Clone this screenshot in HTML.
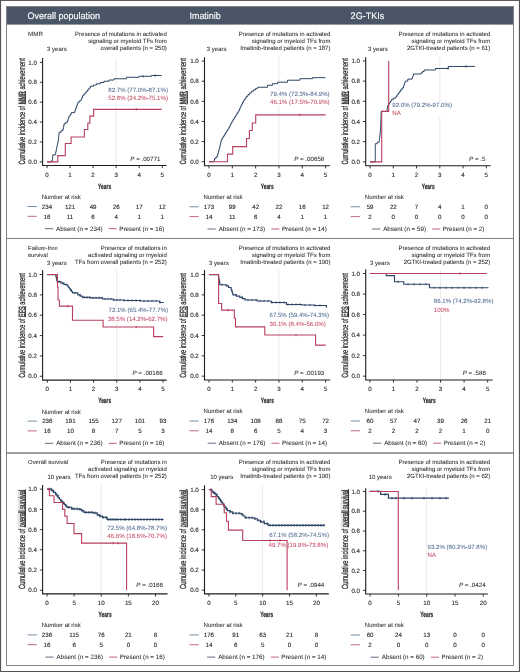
<!DOCTYPE html>
<html><head><meta charset="utf-8"><title>Figure</title>
<style>
html,body{margin:0;padding:0;background:#fff;}
body{width:520px;height:672px;overflow:hidden;font-family:"Liberation Sans", sans-serif;}
svg{display:block;will-change:transform;}
text{font-family:"Liberation Sans", sans-serif;text-rendering:geometricPrecision;}
</style></head><body>
<svg width="520" height="672" viewBox="0 0 520 672" font-family='"Liberation Sans", sans-serif'><rect x="0" y="0" width="520" height="672" fill="#ffffff"/><rect x="0" y="0" width="520" height="1" fill="#5a5a55"/><rect x="0" y="671" width="520" height="1" fill="#555555"/><rect x="0" y="0" width="1.1" height="672" fill="#555555"/><rect x="518.9" y="0" width="1.1" height="672" fill="#555555"/><rect x="6" y="6" width="508" height="18.6" fill="#4a5668"/><text x="27.60" y="18.90" text-anchor="start" fill="#ffffff" font-size="9.5" stroke="#ffffff" stroke-width="0.15" textLength="72.4" lengthAdjust="spacingAndGlyphs">Overall population</text><text x="189.60" y="18.90" text-anchor="start" fill="#ffffff" font-size="9.5" stroke="#ffffff" stroke-width="0.15" textLength="31.0" lengthAdjust="spacingAndGlyphs">Imatinib</text><text x="350.60" y="18.90" text-anchor="start" fill="#ffffff" font-size="9.5" stroke="#ffffff" stroke-width="0.15" textLength="33.8" lengthAdjust="spacingAndGlyphs">2G-TKIs</text><rect x="6.5" y="6.5" width="507" height="659" fill="none" stroke="#848488" stroke-width="1"/><line x1="6" y1="238.5" x2="514" y2="238.5" stroke="#7b8087" stroke-width="1.2"/><line x1="6" y1="452.9" x2="514" y2="452.9" stroke="#7d7f85" stroke-width="1.5"/><line x1="116.15" y1="57.90" x2="116.15" y2="165.50" stroke="#e4e4e8" stroke-width="0.8"/><path d="M42.60,57.90V165.50H166.60" fill="none" stroke="#1e1e1e" stroke-width="1.1"/><line x1="39.80" y1="161.90" x2="42.60" y2="161.90" stroke="#1e1e1e" stroke-width="0.9"/><text x="36.90" y="164.10" text-anchor="end" fill="#2a2a2a" font-size="6.2" stroke="#2a2a2a" stroke-width="0.12" >0.0</text><line x1="39.80" y1="141.99" x2="42.60" y2="141.99" stroke="#1e1e1e" stroke-width="0.9"/><text x="36.90" y="144.19" text-anchor="end" fill="#2a2a2a" font-size="6.2" stroke="#2a2a2a" stroke-width="0.12" >0.2</text><line x1="39.80" y1="122.08" x2="42.60" y2="122.08" stroke="#1e1e1e" stroke-width="0.9"/><text x="36.90" y="124.28" text-anchor="end" fill="#2a2a2a" font-size="6.2" stroke="#2a2a2a" stroke-width="0.12" >0.4</text><line x1="39.80" y1="102.17" x2="42.60" y2="102.17" stroke="#1e1e1e" stroke-width="0.9"/><text x="36.90" y="104.37" text-anchor="end" fill="#2a2a2a" font-size="6.2" stroke="#2a2a2a" stroke-width="0.12" >0.6</text><line x1="39.80" y1="82.26" x2="42.60" y2="82.26" stroke="#1e1e1e" stroke-width="0.9"/><text x="36.90" y="84.46" text-anchor="end" fill="#2a2a2a" font-size="6.2" stroke="#2a2a2a" stroke-width="0.12" >0.8</text><line x1="39.80" y1="62.35" x2="42.60" y2="62.35" stroke="#1e1e1e" stroke-width="0.9"/><text x="36.90" y="64.55" text-anchor="end" fill="#2a2a2a" font-size="6.2" stroke="#2a2a2a" stroke-width="0.12" >1.0</text><line x1="47.00" y1="165.50" x2="47.00" y2="168.10" stroke="#1e1e1e" stroke-width="0.9"/><text x="47.00" y="176.80" text-anchor="middle" fill="#2a2a2a" font-size="6.2" stroke="#2a2a2a" stroke-width="0.12" >0</text><line x1="70.05" y1="165.50" x2="70.05" y2="168.10" stroke="#1e1e1e" stroke-width="0.9"/><text x="70.05" y="176.80" text-anchor="middle" fill="#2a2a2a" font-size="6.2" stroke="#2a2a2a" stroke-width="0.12" >1</text><line x1="93.10" y1="165.50" x2="93.10" y2="168.10" stroke="#1e1e1e" stroke-width="0.9"/><text x="93.10" y="176.80" text-anchor="middle" fill="#2a2a2a" font-size="6.2" stroke="#2a2a2a" stroke-width="0.12" >2</text><line x1="116.15" y1="165.50" x2="116.15" y2="168.10" stroke="#1e1e1e" stroke-width="0.9"/><text x="116.15" y="176.80" text-anchor="middle" fill="#2a2a2a" font-size="6.2" stroke="#2a2a2a" stroke-width="0.12" >3</text><line x1="139.20" y1="165.50" x2="139.20" y2="168.10" stroke="#1e1e1e" stroke-width="0.9"/><text x="139.20" y="176.80" text-anchor="middle" fill="#2a2a2a" font-size="6.2" stroke="#2a2a2a" stroke-width="0.12" >4</text><line x1="162.25" y1="165.50" x2="162.25" y2="168.10" stroke="#1e1e1e" stroke-width="0.9"/><text x="162.25" y="176.80" text-anchor="middle" fill="#2a2a2a" font-size="6.2" stroke="#2a2a2a" stroke-width="0.12" >5</text><text x="0" y="0" transform="translate(104.60,188.80) scale(0.12175,0.19000)" text-anchor="middle" fill="#2a2a2a" font-size="40" font-weight="bold" stroke="#2a2a2a" stroke-width="1.2">Years</text><rect x="17.60" y="90.85" width="7.6" height="13.79" fill="#e3e3e5"/><text x="0" y="0" transform="translate(24.50,164.50) rotate(-90) scale(0.13806,0.22250)" text-anchor="start" fill="#2a2a2a" font-size="40" stroke="#2a2a2a" stroke-width="1.2">Cumulative incidence of <tspan text-decoration="underline">MMR</tspan> achievement</text><line x1="278.96" y1="57.20" x2="278.96" y2="165.80" stroke="#e4e4e8" stroke-width="0.8"/><path d="M204.50,57.20V165.80H329.90" fill="none" stroke="#1e1e1e" stroke-width="1.1"/><line x1="201.70" y1="161.70" x2="204.50" y2="161.70" stroke="#1e1e1e" stroke-width="0.9"/><text x="198.80" y="163.90" text-anchor="end" fill="#2a2a2a" font-size="6.2" stroke="#2a2a2a" stroke-width="0.12" >0.0</text><line x1="201.70" y1="141.58" x2="204.50" y2="141.58" stroke="#1e1e1e" stroke-width="0.9"/><text x="198.80" y="143.78" text-anchor="end" fill="#2a2a2a" font-size="6.2" stroke="#2a2a2a" stroke-width="0.12" >0.2</text><line x1="201.70" y1="121.46" x2="204.50" y2="121.46" stroke="#1e1e1e" stroke-width="0.9"/><text x="198.80" y="123.66" text-anchor="end" fill="#2a2a2a" font-size="6.2" stroke="#2a2a2a" stroke-width="0.12" >0.4</text><line x1="201.70" y1="101.34" x2="204.50" y2="101.34" stroke="#1e1e1e" stroke-width="0.9"/><text x="198.80" y="103.54" text-anchor="end" fill="#2a2a2a" font-size="6.2" stroke="#2a2a2a" stroke-width="0.12" >0.6</text><line x1="201.70" y1="81.22" x2="204.50" y2="81.22" stroke="#1e1e1e" stroke-width="0.9"/><text x="198.80" y="83.42" text-anchor="end" fill="#2a2a2a" font-size="6.2" stroke="#2a2a2a" stroke-width="0.12" >0.8</text><line x1="201.70" y1="61.10" x2="204.50" y2="61.10" stroke="#1e1e1e" stroke-width="0.9"/><text x="198.80" y="63.30" text-anchor="end" fill="#2a2a2a" font-size="6.2" stroke="#2a2a2a" stroke-width="0.12" >1.0</text><line x1="209.00" y1="165.80" x2="209.00" y2="168.40" stroke="#1e1e1e" stroke-width="0.9"/><text x="209.00" y="177.10" text-anchor="middle" fill="#2a2a2a" font-size="6.2" stroke="#2a2a2a" stroke-width="0.12" >0</text><line x1="232.32" y1="165.80" x2="232.32" y2="168.40" stroke="#1e1e1e" stroke-width="0.9"/><text x="232.32" y="177.10" text-anchor="middle" fill="#2a2a2a" font-size="6.2" stroke="#2a2a2a" stroke-width="0.12" >1</text><line x1="255.64" y1="165.80" x2="255.64" y2="168.40" stroke="#1e1e1e" stroke-width="0.9"/><text x="255.64" y="177.10" text-anchor="middle" fill="#2a2a2a" font-size="6.2" stroke="#2a2a2a" stroke-width="0.12" >2</text><line x1="278.96" y1="165.80" x2="278.96" y2="168.40" stroke="#1e1e1e" stroke-width="0.9"/><text x="278.96" y="177.10" text-anchor="middle" fill="#2a2a2a" font-size="6.2" stroke="#2a2a2a" stroke-width="0.12" >3</text><line x1="302.28" y1="165.80" x2="302.28" y2="168.40" stroke="#1e1e1e" stroke-width="0.9"/><text x="302.28" y="177.10" text-anchor="middle" fill="#2a2a2a" font-size="6.2" stroke="#2a2a2a" stroke-width="0.12" >4</text><line x1="325.60" y1="165.80" x2="325.60" y2="168.40" stroke="#1e1e1e" stroke-width="0.9"/><text x="325.60" y="177.10" text-anchor="middle" fill="#2a2a2a" font-size="6.2" stroke="#2a2a2a" stroke-width="0.12" >5</text><text x="0" y="0" transform="translate(267.20,189.10) scale(0.12175,0.19000)" text-anchor="middle" fill="#2a2a2a" font-size="40" font-weight="bold" stroke="#2a2a2a" stroke-width="1.2">Years</text><rect x="179.50" y="90.85" width="7.6" height="13.79" fill="#e3e3e5"/><text x="0" y="0" transform="translate(186.40,164.50) rotate(-90) scale(0.13806,0.22250)" text-anchor="start" fill="#2a2a2a" font-size="40" stroke="#2a2a2a" stroke-width="1.2">Cumulative incidence of <tspan text-decoration="underline">MMR</tspan> achievement</text><line x1="439.82" y1="57.25" x2="439.82" y2="165.80" stroke="#e4e4e8" stroke-width="0.8"/><path d="M365.70,57.25V165.80H490.60" fill="none" stroke="#1e1e1e" stroke-width="1.1"/><line x1="362.90" y1="161.90" x2="365.70" y2="161.90" stroke="#1e1e1e" stroke-width="0.9"/><text x="360.00" y="164.10" text-anchor="end" fill="#2a2a2a" font-size="6.2" stroke="#2a2a2a" stroke-width="0.12" >0.0</text><line x1="362.90" y1="141.70" x2="365.70" y2="141.70" stroke="#1e1e1e" stroke-width="0.9"/><text x="360.00" y="143.90" text-anchor="end" fill="#2a2a2a" font-size="6.2" stroke="#2a2a2a" stroke-width="0.12" >0.2</text><line x1="362.90" y1="121.50" x2="365.70" y2="121.50" stroke="#1e1e1e" stroke-width="0.9"/><text x="360.00" y="123.70" text-anchor="end" fill="#2a2a2a" font-size="6.2" stroke="#2a2a2a" stroke-width="0.12" >0.4</text><line x1="362.90" y1="101.30" x2="365.70" y2="101.30" stroke="#1e1e1e" stroke-width="0.9"/><text x="360.00" y="103.50" text-anchor="end" fill="#2a2a2a" font-size="6.2" stroke="#2a2a2a" stroke-width="0.12" >0.6</text><line x1="362.90" y1="81.10" x2="365.70" y2="81.10" stroke="#1e1e1e" stroke-width="0.9"/><text x="360.00" y="83.30" text-anchor="end" fill="#2a2a2a" font-size="6.2" stroke="#2a2a2a" stroke-width="0.12" >0.8</text><line x1="362.90" y1="60.90" x2="365.70" y2="60.90" stroke="#1e1e1e" stroke-width="0.9"/><text x="360.00" y="63.10" text-anchor="end" fill="#2a2a2a" font-size="6.2" stroke="#2a2a2a" stroke-width="0.12" >1.0</text><line x1="370.10" y1="165.80" x2="370.10" y2="168.40" stroke="#1e1e1e" stroke-width="0.9"/><text x="370.10" y="177.10" text-anchor="middle" fill="#2a2a2a" font-size="6.2" stroke="#2a2a2a" stroke-width="0.12" >0</text><line x1="393.34" y1="165.80" x2="393.34" y2="168.40" stroke="#1e1e1e" stroke-width="0.9"/><text x="393.34" y="177.10" text-anchor="middle" fill="#2a2a2a" font-size="6.2" stroke="#2a2a2a" stroke-width="0.12" >1</text><line x1="416.58" y1="165.80" x2="416.58" y2="168.40" stroke="#1e1e1e" stroke-width="0.9"/><text x="416.58" y="177.10" text-anchor="middle" fill="#2a2a2a" font-size="6.2" stroke="#2a2a2a" stroke-width="0.12" >2</text><line x1="439.82" y1="165.80" x2="439.82" y2="168.40" stroke="#1e1e1e" stroke-width="0.9"/><text x="439.82" y="177.10" text-anchor="middle" fill="#2a2a2a" font-size="6.2" stroke="#2a2a2a" stroke-width="0.12" >3</text><line x1="463.06" y1="165.80" x2="463.06" y2="168.40" stroke="#1e1e1e" stroke-width="0.9"/><text x="463.06" y="177.10" text-anchor="middle" fill="#2a2a2a" font-size="6.2" stroke="#2a2a2a" stroke-width="0.12" >4</text><line x1="486.30" y1="165.80" x2="486.30" y2="168.40" stroke="#1e1e1e" stroke-width="0.9"/><text x="486.30" y="177.10" text-anchor="middle" fill="#2a2a2a" font-size="6.2" stroke="#2a2a2a" stroke-width="0.12" >5</text><text x="0" y="0" transform="translate(428.15,189.10) scale(0.12175,0.19000)" text-anchor="middle" fill="#2a2a2a" font-size="40" font-weight="bold" stroke="#2a2a2a" stroke-width="1.2">Years</text><rect x="340.70" y="90.85" width="7.6" height="13.79" fill="#e3e3e5"/><text x="0" y="0" transform="translate(347.60,164.50) rotate(-90) scale(0.13806,0.22250)" text-anchor="start" fill="#2a2a2a" font-size="40" stroke="#2a2a2a" stroke-width="1.2">Cumulative incidence of <tspan text-decoration="underline">MMR</tspan> achievement</text><line x1="116.72" y1="270.10" x2="116.72" y2="380.10" stroke="#e4e4e8" stroke-width="0.8"/><path d="M42.60,270.10V380.10H166.70" fill="none" stroke="#1e1e1e" stroke-width="1.1"/><line x1="39.80" y1="376.25" x2="42.60" y2="376.25" stroke="#1e1e1e" stroke-width="0.9"/><text x="36.90" y="378.45" text-anchor="end" fill="#2a2a2a" font-size="6.2" stroke="#2a2a2a" stroke-width="0.12" >0.0</text><line x1="39.80" y1="355.91" x2="42.60" y2="355.91" stroke="#1e1e1e" stroke-width="0.9"/><text x="36.90" y="358.11" text-anchor="end" fill="#2a2a2a" font-size="6.2" stroke="#2a2a2a" stroke-width="0.12" >0.2</text><line x1="39.80" y1="335.57" x2="42.60" y2="335.57" stroke="#1e1e1e" stroke-width="0.9"/><text x="36.90" y="337.77" text-anchor="end" fill="#2a2a2a" font-size="6.2" stroke="#2a2a2a" stroke-width="0.12" >0.4</text><line x1="39.80" y1="315.23" x2="42.60" y2="315.23" stroke="#1e1e1e" stroke-width="0.9"/><text x="36.90" y="317.43" text-anchor="end" fill="#2a2a2a" font-size="6.2" stroke="#2a2a2a" stroke-width="0.12" >0.6</text><line x1="39.80" y1="294.89" x2="42.60" y2="294.89" stroke="#1e1e1e" stroke-width="0.9"/><text x="36.90" y="297.09" text-anchor="end" fill="#2a2a2a" font-size="6.2" stroke="#2a2a2a" stroke-width="0.12" >0.8</text><line x1="39.80" y1="274.55" x2="42.60" y2="274.55" stroke="#1e1e1e" stroke-width="0.9"/><text x="36.90" y="276.75" text-anchor="end" fill="#2a2a2a" font-size="6.2" stroke="#2a2a2a" stroke-width="0.12" >1.0</text><line x1="47.30" y1="380.10" x2="47.30" y2="382.70" stroke="#1e1e1e" stroke-width="0.9"/><text x="47.30" y="391.40" text-anchor="middle" fill="#2a2a2a" font-size="6.2" stroke="#2a2a2a" stroke-width="0.12" >0</text><line x1="70.44" y1="380.10" x2="70.44" y2="382.70" stroke="#1e1e1e" stroke-width="0.9"/><text x="70.44" y="391.40" text-anchor="middle" fill="#2a2a2a" font-size="6.2" stroke="#2a2a2a" stroke-width="0.12" >1</text><line x1="93.58" y1="380.10" x2="93.58" y2="382.70" stroke="#1e1e1e" stroke-width="0.9"/><text x="93.58" y="391.40" text-anchor="middle" fill="#2a2a2a" font-size="6.2" stroke="#2a2a2a" stroke-width="0.12" >2</text><line x1="116.72" y1="380.10" x2="116.72" y2="382.70" stroke="#1e1e1e" stroke-width="0.9"/><text x="116.72" y="391.40" text-anchor="middle" fill="#2a2a2a" font-size="6.2" stroke="#2a2a2a" stroke-width="0.12" >3</text><line x1="139.86" y1="380.10" x2="139.86" y2="382.70" stroke="#1e1e1e" stroke-width="0.9"/><text x="139.86" y="391.40" text-anchor="middle" fill="#2a2a2a" font-size="6.2" stroke="#2a2a2a" stroke-width="0.12" >4</text><line x1="163.00" y1="380.10" x2="163.00" y2="382.70" stroke="#1e1e1e" stroke-width="0.9"/><text x="163.00" y="391.40" text-anchor="middle" fill="#2a2a2a" font-size="6.2" stroke="#2a2a2a" stroke-width="0.12" >5</text><text x="0" y="0" transform="translate(104.65,403.40) scale(0.12175,0.19000)" text-anchor="middle" fill="#2a2a2a" font-size="40" font-weight="bold" stroke="#2a2a2a" stroke-width="1.2">Years</text><rect x="17.60" y="305.93" width="7.6" height="11.42" fill="#e3e3e5"/><text x="0" y="0" transform="translate(24.50,377.65) rotate(-90) scale(0.13906,0.22250)" text-anchor="start" fill="#2a2a2a" font-size="40" stroke="#2a2a2a" stroke-width="1.2">Cumulative incidence of <tspan text-decoration="underline">EFS</tspan> achievement</text><line x1="278.96" y1="270.10" x2="278.96" y2="380.00" stroke="#e4e4e8" stroke-width="0.8"/><path d="M204.50,270.10V380.00H330.20" fill="none" stroke="#1e1e1e" stroke-width="1.1"/><line x1="201.70" y1="376.15" x2="204.50" y2="376.15" stroke="#1e1e1e" stroke-width="0.9"/><text x="198.80" y="378.35" text-anchor="end" fill="#2a2a2a" font-size="6.2" stroke="#2a2a2a" stroke-width="0.12" >0.0</text><line x1="201.70" y1="355.83" x2="204.50" y2="355.83" stroke="#1e1e1e" stroke-width="0.9"/><text x="198.80" y="358.03" text-anchor="end" fill="#2a2a2a" font-size="6.2" stroke="#2a2a2a" stroke-width="0.12" >0.2</text><line x1="201.70" y1="335.51" x2="204.50" y2="335.51" stroke="#1e1e1e" stroke-width="0.9"/><text x="198.80" y="337.71" text-anchor="end" fill="#2a2a2a" font-size="6.2" stroke="#2a2a2a" stroke-width="0.12" >0.4</text><line x1="201.70" y1="315.19" x2="204.50" y2="315.19" stroke="#1e1e1e" stroke-width="0.9"/><text x="198.80" y="317.39" text-anchor="end" fill="#2a2a2a" font-size="6.2" stroke="#2a2a2a" stroke-width="0.12" >0.6</text><line x1="201.70" y1="294.87" x2="204.50" y2="294.87" stroke="#1e1e1e" stroke-width="0.9"/><text x="198.80" y="297.07" text-anchor="end" fill="#2a2a2a" font-size="6.2" stroke="#2a2a2a" stroke-width="0.12" >0.8</text><line x1="201.70" y1="274.55" x2="204.50" y2="274.55" stroke="#1e1e1e" stroke-width="0.9"/><text x="198.80" y="276.75" text-anchor="end" fill="#2a2a2a" font-size="6.2" stroke="#2a2a2a" stroke-width="0.12" >1.0</text><line x1="209.00" y1="380.00" x2="209.00" y2="382.60" stroke="#1e1e1e" stroke-width="0.9"/><text x="209.00" y="391.30" text-anchor="middle" fill="#2a2a2a" font-size="6.2" stroke="#2a2a2a" stroke-width="0.12" >0</text><line x1="232.32" y1="380.00" x2="232.32" y2="382.60" stroke="#1e1e1e" stroke-width="0.9"/><text x="232.32" y="391.30" text-anchor="middle" fill="#2a2a2a" font-size="6.2" stroke="#2a2a2a" stroke-width="0.12" >1</text><line x1="255.64" y1="380.00" x2="255.64" y2="382.60" stroke="#1e1e1e" stroke-width="0.9"/><text x="255.64" y="391.30" text-anchor="middle" fill="#2a2a2a" font-size="6.2" stroke="#2a2a2a" stroke-width="0.12" >2</text><line x1="278.96" y1="380.00" x2="278.96" y2="382.60" stroke="#1e1e1e" stroke-width="0.9"/><text x="278.96" y="391.30" text-anchor="middle" fill="#2a2a2a" font-size="6.2" stroke="#2a2a2a" stroke-width="0.12" >3</text><line x1="302.28" y1="380.00" x2="302.28" y2="382.60" stroke="#1e1e1e" stroke-width="0.9"/><text x="302.28" y="391.30" text-anchor="middle" fill="#2a2a2a" font-size="6.2" stroke="#2a2a2a" stroke-width="0.12" >4</text><line x1="325.60" y1="380.00" x2="325.60" y2="382.60" stroke="#1e1e1e" stroke-width="0.9"/><text x="325.60" y="391.30" text-anchor="middle" fill="#2a2a2a" font-size="6.2" stroke="#2a2a2a" stroke-width="0.12" >5</text><text x="0" y="0" transform="translate(267.35,403.30) scale(0.12175,0.19000)" text-anchor="middle" fill="#2a2a2a" font-size="40" font-weight="bold" stroke="#2a2a2a" stroke-width="1.2">Years</text><rect x="179.50" y="305.93" width="7.6" height="11.42" fill="#e3e3e5"/><text x="0" y="0" transform="translate(186.40,377.65) rotate(-90) scale(0.13906,0.22250)" text-anchor="start" fill="#2a2a2a" font-size="40" stroke="#2a2a2a" stroke-width="1.2">Cumulative incidence of <tspan text-decoration="underline">EFS</tspan> achievement</text><line x1="440.55" y1="269.35" x2="440.55" y2="380.00" stroke="#e4e4e8" stroke-width="0.8"/><path d="M365.70,269.35V380.00H492.60" fill="none" stroke="#1e1e1e" stroke-width="1.1"/><line x1="362.90" y1="376.15" x2="365.70" y2="376.15" stroke="#1e1e1e" stroke-width="0.9"/><text x="360.00" y="378.35" text-anchor="end" fill="#2a2a2a" font-size="6.2" stroke="#2a2a2a" stroke-width="0.12" >0.0</text><line x1="362.90" y1="355.63" x2="365.70" y2="355.63" stroke="#1e1e1e" stroke-width="0.9"/><text x="360.00" y="357.83" text-anchor="end" fill="#2a2a2a" font-size="6.2" stroke="#2a2a2a" stroke-width="0.12" >0.2</text><line x1="362.90" y1="335.11" x2="365.70" y2="335.11" stroke="#1e1e1e" stroke-width="0.9"/><text x="360.00" y="337.31" text-anchor="end" fill="#2a2a2a" font-size="6.2" stroke="#2a2a2a" stroke-width="0.12" >0.4</text><line x1="362.90" y1="314.59" x2="365.70" y2="314.59" stroke="#1e1e1e" stroke-width="0.9"/><text x="360.00" y="316.79" text-anchor="end" fill="#2a2a2a" font-size="6.2" stroke="#2a2a2a" stroke-width="0.12" >0.6</text><line x1="362.90" y1="294.07" x2="365.70" y2="294.07" stroke="#1e1e1e" stroke-width="0.9"/><text x="360.00" y="296.27" text-anchor="end" fill="#2a2a2a" font-size="6.2" stroke="#2a2a2a" stroke-width="0.12" >0.8</text><line x1="362.90" y1="273.55" x2="365.70" y2="273.55" stroke="#1e1e1e" stroke-width="0.9"/><text x="360.00" y="275.75" text-anchor="end" fill="#2a2a2a" font-size="6.2" stroke="#2a2a2a" stroke-width="0.12" >1.0</text><line x1="369.90" y1="380.00" x2="369.90" y2="382.60" stroke="#1e1e1e" stroke-width="0.9"/><text x="369.90" y="391.30" text-anchor="middle" fill="#2a2a2a" font-size="6.2" stroke="#2a2a2a" stroke-width="0.12" >0</text><line x1="393.45" y1="380.00" x2="393.45" y2="382.60" stroke="#1e1e1e" stroke-width="0.9"/><text x="393.45" y="391.30" text-anchor="middle" fill="#2a2a2a" font-size="6.2" stroke="#2a2a2a" stroke-width="0.12" >1</text><line x1="417.00" y1="380.00" x2="417.00" y2="382.60" stroke="#1e1e1e" stroke-width="0.9"/><text x="417.00" y="391.30" text-anchor="middle" fill="#2a2a2a" font-size="6.2" stroke="#2a2a2a" stroke-width="0.12" >2</text><line x1="440.55" y1="380.00" x2="440.55" y2="382.60" stroke="#1e1e1e" stroke-width="0.9"/><text x="440.55" y="391.30" text-anchor="middle" fill="#2a2a2a" font-size="6.2" stroke="#2a2a2a" stroke-width="0.12" >3</text><line x1="464.10" y1="380.00" x2="464.10" y2="382.60" stroke="#1e1e1e" stroke-width="0.9"/><text x="464.10" y="391.30" text-anchor="middle" fill="#2a2a2a" font-size="6.2" stroke="#2a2a2a" stroke-width="0.12" >4</text><line x1="487.65" y1="380.00" x2="487.65" y2="382.60" stroke="#1e1e1e" stroke-width="0.9"/><text x="487.65" y="391.30" text-anchor="middle" fill="#2a2a2a" font-size="6.2" stroke="#2a2a2a" stroke-width="0.12" >5</text><text x="0" y="0" transform="translate(429.15,403.30) scale(0.12175,0.19000)" text-anchor="middle" fill="#2a2a2a" font-size="40" font-weight="bold" stroke="#2a2a2a" stroke-width="1.2">Years</text><rect x="340.70" y="305.93" width="7.6" height="11.42" fill="#e3e3e5"/><text x="0" y="0" transform="translate(347.60,377.65) rotate(-90) scale(0.13906,0.22250)" text-anchor="start" fill="#2a2a2a" font-size="40" stroke="#2a2a2a" stroke-width="1.2">Cumulative incidence of <tspan text-decoration="underline">EFS</tspan> achievement</text><line x1="101.25" y1="484.90" x2="101.25" y2="593.90" stroke="#e4e4e8" stroke-width="0.8"/><path d="M42.60,484.90V593.90H167.60" fill="none" stroke="#1e1e1e" stroke-width="1.1"/><line x1="39.80" y1="590.25" x2="42.60" y2="590.25" stroke="#1e1e1e" stroke-width="0.9"/><text x="36.90" y="592.45" text-anchor="end" fill="#2a2a2a" font-size="6.2" stroke="#2a2a2a" stroke-width="0.12" >0.0</text><line x1="39.80" y1="570.03" x2="42.60" y2="570.03" stroke="#1e1e1e" stroke-width="0.9"/><text x="36.90" y="572.23" text-anchor="end" fill="#2a2a2a" font-size="6.2" stroke="#2a2a2a" stroke-width="0.12" >0.2</text><line x1="39.80" y1="549.81" x2="42.60" y2="549.81" stroke="#1e1e1e" stroke-width="0.9"/><text x="36.90" y="552.01" text-anchor="end" fill="#2a2a2a" font-size="6.2" stroke="#2a2a2a" stroke-width="0.12" >0.4</text><line x1="39.80" y1="529.59" x2="42.60" y2="529.59" stroke="#1e1e1e" stroke-width="0.9"/><text x="36.90" y="531.79" text-anchor="end" fill="#2a2a2a" font-size="6.2" stroke="#2a2a2a" stroke-width="0.12" >0.6</text><line x1="39.80" y1="509.37" x2="42.60" y2="509.37" stroke="#1e1e1e" stroke-width="0.9"/><text x="36.90" y="511.57" text-anchor="end" fill="#2a2a2a" font-size="6.2" stroke="#2a2a2a" stroke-width="0.12" >0.8</text><line x1="39.80" y1="489.15" x2="42.60" y2="489.15" stroke="#1e1e1e" stroke-width="0.9"/><text x="36.90" y="491.35" text-anchor="end" fill="#2a2a2a" font-size="6.2" stroke="#2a2a2a" stroke-width="0.12" >1.0</text><line x1="47.00" y1="593.90" x2="47.00" y2="596.50" stroke="#1e1e1e" stroke-width="0.9"/><text x="47.00" y="605.20" text-anchor="middle" fill="#2a2a2a" font-size="6.2" stroke="#2a2a2a" stroke-width="0.12" >0</text><line x1="74.12" y1="593.90" x2="74.12" y2="596.50" stroke="#1e1e1e" stroke-width="0.9"/><text x="74.12" y="605.20" text-anchor="middle" fill="#2a2a2a" font-size="6.2" stroke="#2a2a2a" stroke-width="0.12" >5</text><line x1="101.25" y1="593.90" x2="101.25" y2="596.50" stroke="#1e1e1e" stroke-width="0.9"/><text x="101.25" y="605.20" text-anchor="middle" fill="#2a2a2a" font-size="6.2" stroke="#2a2a2a" stroke-width="0.12" >10</text><line x1="128.38" y1="593.90" x2="128.38" y2="596.50" stroke="#1e1e1e" stroke-width="0.9"/><text x="128.38" y="605.20" text-anchor="middle" fill="#2a2a2a" font-size="6.2" stroke="#2a2a2a" stroke-width="0.12" >15</text><line x1="155.50" y1="593.90" x2="155.50" y2="596.50" stroke="#1e1e1e" stroke-width="0.9"/><text x="155.50" y="605.20" text-anchor="middle" fill="#2a2a2a" font-size="6.2" stroke="#2a2a2a" stroke-width="0.12" >20</text><text x="0" y="0" transform="translate(105.10,617.20) scale(0.12175,0.19000)" text-anchor="middle" fill="#2a2a2a" font-size="40" font-weight="bold" stroke="#2a2a2a" stroke-width="1.2">Years</text><rect x="17.60" y="489.50" width="7.6" height="38.03" fill="#e3e3e5"/><text x="0" y="0" transform="translate(24.50,588.90) rotate(-90) scale(0.14151,0.22250)" text-anchor="start" fill="#2a2a2a" font-size="40" stroke="#2a2a2a" stroke-width="1.2">Cumulative incidence of <tspan text-decoration="underline">overall survival</tspan></text><line x1="262.65" y1="485.30" x2="262.65" y2="593.90" stroke="#e4e4e8" stroke-width="0.8"/><path d="M204.50,485.30V593.90H328.80" fill="none" stroke="#1e1e1e" stroke-width="1.1"/><line x1="201.70" y1="590.15" x2="204.50" y2="590.15" stroke="#1e1e1e" stroke-width="0.9"/><text x="198.80" y="592.35" text-anchor="end" fill="#2a2a2a" font-size="6.2" stroke="#2a2a2a" stroke-width="0.12" >0.0</text><line x1="201.70" y1="570.04" x2="204.50" y2="570.04" stroke="#1e1e1e" stroke-width="0.9"/><text x="198.80" y="572.24" text-anchor="end" fill="#2a2a2a" font-size="6.2" stroke="#2a2a2a" stroke-width="0.12" >0.2</text><line x1="201.70" y1="549.93" x2="204.50" y2="549.93" stroke="#1e1e1e" stroke-width="0.9"/><text x="198.80" y="552.13" text-anchor="end" fill="#2a2a2a" font-size="6.2" stroke="#2a2a2a" stroke-width="0.12" >0.4</text><line x1="201.70" y1="529.82" x2="204.50" y2="529.82" stroke="#1e1e1e" stroke-width="0.9"/><text x="198.80" y="532.02" text-anchor="end" fill="#2a2a2a" font-size="6.2" stroke="#2a2a2a" stroke-width="0.12" >0.6</text><line x1="201.70" y1="509.71" x2="204.50" y2="509.71" stroke="#1e1e1e" stroke-width="0.9"/><text x="198.80" y="511.91" text-anchor="end" fill="#2a2a2a" font-size="6.2" stroke="#2a2a2a" stroke-width="0.12" >0.8</text><line x1="201.70" y1="489.60" x2="204.50" y2="489.60" stroke="#1e1e1e" stroke-width="0.9"/><text x="198.80" y="491.80" text-anchor="end" fill="#2a2a2a" font-size="6.2" stroke="#2a2a2a" stroke-width="0.12" >1.0</text><line x1="208.90" y1="593.90" x2="208.90" y2="596.50" stroke="#1e1e1e" stroke-width="0.9"/><text x="208.90" y="605.20" text-anchor="middle" fill="#2a2a2a" font-size="6.2" stroke="#2a2a2a" stroke-width="0.12" >0</text><line x1="235.78" y1="593.90" x2="235.78" y2="596.50" stroke="#1e1e1e" stroke-width="0.9"/><text x="235.78" y="605.20" text-anchor="middle" fill="#2a2a2a" font-size="6.2" stroke="#2a2a2a" stroke-width="0.12" >5</text><line x1="262.65" y1="593.90" x2="262.65" y2="596.50" stroke="#1e1e1e" stroke-width="0.9"/><text x="262.65" y="605.20" text-anchor="middle" fill="#2a2a2a" font-size="6.2" stroke="#2a2a2a" stroke-width="0.12" >10</text><line x1="289.52" y1="593.90" x2="289.52" y2="596.50" stroke="#1e1e1e" stroke-width="0.9"/><text x="289.52" y="605.20" text-anchor="middle" fill="#2a2a2a" font-size="6.2" stroke="#2a2a2a" stroke-width="0.12" >15</text><line x1="316.40" y1="593.90" x2="316.40" y2="596.50" stroke="#1e1e1e" stroke-width="0.9"/><text x="316.40" y="605.20" text-anchor="middle" fill="#2a2a2a" font-size="6.2" stroke="#2a2a2a" stroke-width="0.12" >20</text><text x="0" y="0" transform="translate(266.65,617.20) scale(0.12175,0.19000)" text-anchor="middle" fill="#2a2a2a" font-size="40" font-weight="bold" stroke="#2a2a2a" stroke-width="1.2">Years</text><rect x="179.50" y="489.50" width="7.6" height="38.03" fill="#e3e3e5"/><text x="0" y="0" transform="translate(186.40,588.90) rotate(-90) scale(0.14151,0.22250)" text-anchor="start" fill="#2a2a2a" font-size="40" stroke="#2a2a2a" stroke-width="1.2">Cumulative incidence of <tspan text-decoration="underline">overall survival</tspan></text><line x1="426.70" y1="488.20" x2="426.70" y2="594.00" stroke="#e4e4e8" stroke-width="0.8"/><path d="M365.70,488.20V594.00H487.90" fill="none" stroke="#1e1e1e" stroke-width="1.1"/><line x1="362.90" y1="590.35" x2="365.70" y2="590.35" stroke="#1e1e1e" stroke-width="0.9"/><text x="360.00" y="592.55" text-anchor="end" fill="#2a2a2a" font-size="6.2" stroke="#2a2a2a" stroke-width="0.12" >0.0</text><line x1="362.90" y1="570.57" x2="365.70" y2="570.57" stroke="#1e1e1e" stroke-width="0.9"/><text x="360.00" y="572.77" text-anchor="end" fill="#2a2a2a" font-size="6.2" stroke="#2a2a2a" stroke-width="0.12" >0.2</text><line x1="362.90" y1="550.79" x2="365.70" y2="550.79" stroke="#1e1e1e" stroke-width="0.9"/><text x="360.00" y="552.99" text-anchor="end" fill="#2a2a2a" font-size="6.2" stroke="#2a2a2a" stroke-width="0.12" >0.4</text><line x1="362.90" y1="531.01" x2="365.70" y2="531.01" stroke="#1e1e1e" stroke-width="0.9"/><text x="360.00" y="533.21" text-anchor="end" fill="#2a2a2a" font-size="6.2" stroke="#2a2a2a" stroke-width="0.12" >0.6</text><line x1="362.90" y1="511.23" x2="365.70" y2="511.23" stroke="#1e1e1e" stroke-width="0.9"/><text x="360.00" y="513.43" text-anchor="end" fill="#2a2a2a" font-size="6.2" stroke="#2a2a2a" stroke-width="0.12" >0.8</text><line x1="362.90" y1="491.45" x2="365.70" y2="491.45" stroke="#1e1e1e" stroke-width="0.9"/><text x="360.00" y="493.65" text-anchor="end" fill="#2a2a2a" font-size="6.2" stroke="#2a2a2a" stroke-width="0.12" >1.0</text><line x1="370.10" y1="594.00" x2="370.10" y2="596.60" stroke="#1e1e1e" stroke-width="0.9"/><text x="370.10" y="605.30" text-anchor="middle" fill="#2a2a2a" font-size="6.2" stroke="#2a2a2a" stroke-width="0.12" >0</text><line x1="398.40" y1="594.00" x2="398.40" y2="596.60" stroke="#1e1e1e" stroke-width="0.9"/><text x="398.40" y="605.30" text-anchor="middle" fill="#2a2a2a" font-size="6.2" stroke="#2a2a2a" stroke-width="0.12" >5</text><line x1="426.70" y1="594.00" x2="426.70" y2="596.60" stroke="#1e1e1e" stroke-width="0.9"/><text x="426.70" y="605.30" text-anchor="middle" fill="#2a2a2a" font-size="6.2" stroke="#2a2a2a" stroke-width="0.12" >10</text><line x1="455.00" y1="594.00" x2="455.00" y2="596.60" stroke="#1e1e1e" stroke-width="0.9"/><text x="455.00" y="605.30" text-anchor="middle" fill="#2a2a2a" font-size="6.2" stroke="#2a2a2a" stroke-width="0.12" >15</text><line x1="483.30" y1="594.00" x2="483.30" y2="596.60" stroke="#1e1e1e" stroke-width="0.9"/><text x="483.30" y="605.30" text-anchor="middle" fill="#2a2a2a" font-size="6.2" stroke="#2a2a2a" stroke-width="0.12" >20</text><text x="0" y="0" transform="translate(426.80,617.30) scale(0.12175,0.19000)" text-anchor="middle" fill="#2a2a2a" font-size="40" font-weight="bold" stroke="#2a2a2a" stroke-width="1.2">Years</text><rect x="340.70" y="489.50" width="7.6" height="38.03" fill="#e3e3e5"/><text x="0" y="0" transform="translate(347.60,588.90) rotate(-90) scale(0.14151,0.22250)" text-anchor="start" fill="#2a2a2a" font-size="40" stroke="#2a2a2a" stroke-width="1.2">Cumulative incidence of <tspan text-decoration="underline">overall survival</tspan></text><text x="28.10" y="35.90" text-anchor="start" fill="#2a2a2a" font-size="6.3" stroke="#2a2a2a" stroke-width="0.05" >MMR</text><text x="47.10" y="50.50" text-anchor="start" fill="#2a2a2a" font-size="6.0" stroke="#2a2a2a" stroke-width="0.05" >3 years</text><text x="166.80" y="36.00" text-anchor="end" fill="#2a2a2a" font-size="6.0" stroke="#2a2a2a" stroke-width="0.05" >Presence of mutations in activated</text><text x="166.80" y="43.00" text-anchor="end" fill="#2a2a2a" font-size="6.0" stroke="#2a2a2a" stroke-width="0.05" >signaling or myeloid TFs from</text><text x="166.80" y="50.00" text-anchor="end" fill="#2a2a2a" font-size="6.0" stroke="#2a2a2a" stroke-width="0.05" >overall patients (n = 250)</text><path d="M47.00,161.90H51.50H51.50V160.71H52.50H52.55V159.26H52.60V157.82H52.65V156.37H52.70V154.93H55.30V153.94H55.64V152.30H55.99V150.67H56.33V149.03H56.67V147.39H57.01V145.76H57.36V144.12H57.70V142.49H58.00V141.24H58.30V140.00H58.46V138.47H58.62V136.93H58.78V135.40H58.94V133.87H59.10V132.33H61.00V130.69H62.90V129.05H63.30V127.26H63.70V125.46H64.10V123.67H65.80V122.18H67.50V120.69H68.10V118.75H68.70V116.80H69.60V115.41H70.50V114.02H71.40V112.62H74.80V110.73H75.47V108.91H76.13V107.08H76.80V105.26H77.35V103.71H77.90V102.17H79.45V100.83H81.00V99.48H81.75V97.59H82.50V95.70H83.75V94.26H85.00V92.81H86.25V91.37H87.50V89.93H88.90V88.08H90.30V86.24H93.40V85.00H96.50V83.75H100.25V82.51H104.00V81.26H109.00V80.02H114.00V78.78H126.50V77.28H139.00V76.29H151.50V75.49H161.50" fill="none" stroke="#2c4566" stroke-width="1.0" stroke-linejoin="miter" stroke-linecap="butt"/><path d="M47.00,161.90H57.80V155.63H65.30V143.48H71.10V137.01H84.40V129.55H87.80V123.08H89.90V116.11H93.60V109.34H161.60" fill="none" stroke="#b8405e" stroke-width="1.1" stroke-linejoin="miter" stroke-linecap="butt"/><line x1="136.30" y1="108.14" x2="136.30" y2="110.54" stroke="#b8405e" stroke-width="0.9"/><line x1="143.00" y1="75.09" x2="143.00" y2="77.49" stroke="#2c4566" stroke-width="0.9"/><line x1="155.00" y1="74.29" x2="155.00" y2="76.69" stroke="#2c4566" stroke-width="0.9"/><rect x="107.70" y="86.80" width="61.47" height="14.40" fill="#ffffff"/><text x="108.30" y="91.80" text-anchor="start" fill="#4f6b90" font-size="6.1" stroke="#4f6b90" stroke-width="0.05" >82.7% (77.0%-87.1%)</text><text x="108.30" y="99.60" text-anchor="start" fill="#c64a66" font-size="6.1" stroke="#c64a66" stroke-width="0.05" >52.8% (24.2%-75.1%)</text><text x="160.40" y="160.60" text-anchor="end" fill="#2a2a2a" font-size="6.2" stroke="#2a2a2a" stroke-width="0.05" ><tspan font-style="italic">P</tspan> = .00771</text><text x="41.70" y="198.90" text-anchor="start" fill="#2a2a2a" font-size="6.0" stroke="#2a2a2a" stroke-width="0.05" >Number at risk</text><line x1="27.60" y1="206.50" x2="36.80" y2="206.50" stroke="#7590a6" stroke-width="1.0"/><line x1="27.60" y1="216.30" x2="36.80" y2="216.30" stroke="#c06a82" stroke-width="1.0"/><text x="47.00" y="208.70" text-anchor="middle" fill="#2a2a2a" font-size="6.2" stroke="#2a2a2a" stroke-width="0.12" >234</text><text x="47.00" y="218.50" text-anchor="middle" fill="#2a2a2a" font-size="6.2" stroke="#2a2a2a" stroke-width="0.12" >16</text><text x="70.05" y="208.70" text-anchor="middle" fill="#2a2a2a" font-size="6.2" stroke="#2a2a2a" stroke-width="0.12" >121</text><text x="70.05" y="218.50" text-anchor="middle" fill="#2a2a2a" font-size="6.2" stroke="#2a2a2a" stroke-width="0.12" >11</text><text x="93.10" y="208.70" text-anchor="middle" fill="#2a2a2a" font-size="6.2" stroke="#2a2a2a" stroke-width="0.12" >49</text><text x="93.10" y="218.50" text-anchor="middle" fill="#2a2a2a" font-size="6.2" stroke="#2a2a2a" stroke-width="0.12" >6</text><text x="116.15" y="208.70" text-anchor="middle" fill="#2a2a2a" font-size="6.2" stroke="#2a2a2a" stroke-width="0.12" >26</text><text x="116.15" y="218.50" text-anchor="middle" fill="#2a2a2a" font-size="6.2" stroke="#2a2a2a" stroke-width="0.12" >4</text><text x="139.20" y="208.70" text-anchor="middle" fill="#2a2a2a" font-size="6.2" stroke="#2a2a2a" stroke-width="0.12" >17</text><text x="139.20" y="218.50" text-anchor="middle" fill="#2a2a2a" font-size="6.2" stroke="#2a2a2a" stroke-width="0.12" >1</text><text x="162.25" y="208.70" text-anchor="middle" fill="#2a2a2a" font-size="6.2" stroke="#2a2a2a" stroke-width="0.12" >12</text><text x="162.25" y="218.50" text-anchor="middle" fill="#2a2a2a" font-size="6.2" stroke="#2a2a2a" stroke-width="0.12" >1</text><line x1="44.91" y1="228.70" x2="53.11" y2="228.70" stroke="#46526a" stroke-width="0.85"/><text x="56.11" y="230.80" text-anchor="start" fill="#2a2a2a" font-size="6.25" stroke="#2a2a2a" stroke-width="0.05" >Absent (n = 234)</text><line x1="108.70" y1="228.70" x2="116.70" y2="228.70" stroke="#b8405e" stroke-width="0.85"/><text x="119.30" y="230.80" text-anchor="start" fill="#2a2a2a" font-size="6.25" stroke="#2a2a2a" stroke-width="0.05" >Present (n = 16)</text><text x="206.80" y="50.50" text-anchor="start" fill="#2a2a2a" font-size="6.0" stroke="#2a2a2a" stroke-width="0.05" >3 years</text><text x="330.40" y="36.00" text-anchor="end" fill="#2a2a2a" font-size="6.0" stroke="#2a2a2a" stroke-width="0.05" >Presence of mutations in activated</text><text x="330.40" y="43.00" text-anchor="end" fill="#2a2a2a" font-size="6.0" stroke="#2a2a2a" stroke-width="0.05" >signaling or myeloid TFs from</text><text x="330.40" y="50.00" text-anchor="end" fill="#2a2a2a" font-size="6.0" stroke="#2a2a2a" stroke-width="0.05" >Imatinib-treated patients (n = 187)</text><path d="M209.00,161.70H213.70H214.10V160.19H214.50V158.68H216.00V156.82H217.50V154.96H217.90V153.49H218.30V152.02H218.70V150.55H219.10V149.08H219.50V147.62H219.86V146.01H220.22V144.40H220.58V142.79H220.94V141.18H221.30V139.57H222.23V138.06H223.15V136.55H224.07V135.04H225.00V133.53H225.95V132.02H226.90V130.51H227.85V129.00H228.80V127.50H229.63V125.82H230.47V124.14H231.30V122.47H232.23V120.96H233.15V119.45H234.07V117.94H235.00V116.43H235.95V114.92H236.90V113.41H237.85V111.90H238.80V110.39H239.54V108.78H240.28V107.17H241.02V105.57H241.76V103.96H242.50V102.35H243.45V100.84H244.40V99.33H245.35V97.82H246.30V96.31H247.97V94.63H249.63V92.96H251.30V91.28H253.37V89.94H255.43V88.60H257.50V87.26H267.50V85.24H272.50V83.73H277.50V82.23H287.50V80.21H300.00V78.70H312.50V77.70H325.20V77.20" fill="none" stroke="#2c4566" stroke-width="1.0" stroke-linejoin="miter" stroke-linecap="butt"/><path d="M209.00,161.70H227.50V154.16H232.70V146.61H246.50V138.56H249.40V130.51H252.30V122.97H255.70V114.92H325.60" fill="none" stroke="#b8405e" stroke-width="1.1" stroke-linejoin="miter" stroke-linecap="butt"/><line x1="299.70" y1="113.72" x2="299.70" y2="116.12" stroke="#b8405e" stroke-width="0.9"/><rect x="269.40" y="90.60" width="61.47" height="15.10" fill="#ffffff"/><text x="270.00" y="95.60" text-anchor="start" fill="#4f6b90" font-size="6.1" stroke="#4f6b90" stroke-width="0.05" >79.4% (72.3%-84.9%)</text><text x="270.00" y="104.10" text-anchor="start" fill="#c64a66" font-size="6.1" stroke="#c64a66" stroke-width="0.05" >46.1% (17.5%-70.9%)</text><text x="324.30" y="160.60" text-anchor="end" fill="#2a2a2a" font-size="6.2" stroke="#2a2a2a" stroke-width="0.05" ><tspan font-style="italic">P</tspan> = .00658</text><text x="203.60" y="199.20" text-anchor="start" fill="#2a2a2a" font-size="6.0" stroke="#2a2a2a" stroke-width="0.05" >Number at risk</text><line x1="189.50" y1="206.80" x2="198.70" y2="206.80" stroke="#7590a6" stroke-width="1.0"/><line x1="189.50" y1="216.60" x2="198.70" y2="216.60" stroke="#c06a82" stroke-width="1.0"/><text x="209.00" y="209.00" text-anchor="middle" fill="#2a2a2a" font-size="6.2" stroke="#2a2a2a" stroke-width="0.12" >173</text><text x="209.00" y="218.80" text-anchor="middle" fill="#2a2a2a" font-size="6.2" stroke="#2a2a2a" stroke-width="0.12" >14</text><text x="232.32" y="209.00" text-anchor="middle" fill="#2a2a2a" font-size="6.2" stroke="#2a2a2a" stroke-width="0.12" >99</text><text x="232.32" y="218.80" text-anchor="middle" fill="#2a2a2a" font-size="6.2" stroke="#2a2a2a" stroke-width="0.12" >11</text><text x="255.64" y="209.00" text-anchor="middle" fill="#2a2a2a" font-size="6.2" stroke="#2a2a2a" stroke-width="0.12" >42</text><text x="255.64" y="218.80" text-anchor="middle" fill="#2a2a2a" font-size="6.2" stroke="#2a2a2a" stroke-width="0.12" >6</text><text x="278.96" y="209.00" text-anchor="middle" fill="#2a2a2a" font-size="6.2" stroke="#2a2a2a" stroke-width="0.12" >22</text><text x="278.96" y="218.80" text-anchor="middle" fill="#2a2a2a" font-size="6.2" stroke="#2a2a2a" stroke-width="0.12" >4</text><text x="302.28" y="209.00" text-anchor="middle" fill="#2a2a2a" font-size="6.2" stroke="#2a2a2a" stroke-width="0.12" >16</text><text x="302.28" y="218.80" text-anchor="middle" fill="#2a2a2a" font-size="6.2" stroke="#2a2a2a" stroke-width="0.12" >1</text><text x="325.60" y="209.00" text-anchor="middle" fill="#2a2a2a" font-size="6.2" stroke="#2a2a2a" stroke-width="0.12" >12</text><text x="325.60" y="218.80" text-anchor="middle" fill="#2a2a2a" font-size="6.2" stroke="#2a2a2a" stroke-width="0.12" >1</text><line x1="207.51" y1="229.00" x2="215.71" y2="229.00" stroke="#46526a" stroke-width="0.85"/><text x="218.71" y="231.10" text-anchor="start" fill="#2a2a2a" font-size="6.25" stroke="#2a2a2a" stroke-width="0.05" >Absent (n = 173)</text><line x1="271.30" y1="229.00" x2="279.30" y2="229.00" stroke="#b8405e" stroke-width="0.85"/><text x="281.90" y="231.10" text-anchor="start" fill="#2a2a2a" font-size="6.25" stroke="#2a2a2a" stroke-width="0.05" >Present (n = 14)</text><text x="368.10" y="50.50" text-anchor="start" fill="#2a2a2a" font-size="6.0" stroke="#2a2a2a" stroke-width="0.05" >3 years</text><text x="490.20" y="36.00" text-anchor="end" fill="#2a2a2a" font-size="6.0" stroke="#2a2a2a" stroke-width="0.05" >Presence of mutations in activated</text><text x="490.20" y="43.00" text-anchor="end" fill="#2a2a2a" font-size="6.0" stroke="#2a2a2a" stroke-width="0.05" >signaling or myeloid TFs from</text><text x="490.20" y="50.00" text-anchor="end" fill="#2a2a2a" font-size="6.0" stroke="#2a2a2a" stroke-width="0.05" >2GTKI-treated patients (n = 61)</text><path d="M370.10,161.90H375.30H375.30V160.25H375.30V158.59H375.30V156.94H375.30V155.29H375.30V153.64H375.30V151.98H375.30V150.33H375.30V148.68H375.30V147.03H375.30V145.37H375.30V143.72H377.25V142.21H379.20V140.69H379.39V139.10H379.57V137.52H379.76V135.93H379.94V134.34H380.13V132.75H380.31V131.17H380.50V129.58H380.56V127.93H380.63V126.27H380.69V124.62H380.75V122.97H380.82V121.32H380.88V119.66H380.95V118.01H381.01V116.36H381.07V114.71H381.14V113.05H381.20V111.40H386.70H386.97V109.55H387.23V107.70H387.50V105.84H388.55V104.20H389.60V102.56H390.65V100.92H391.70V99.28H393.75V98.02H395.80V96.76H396.93V95.07H398.07V93.39H399.20V91.71H400.63V89.85H402.07V88.00H403.50V86.15H404.07V84.47H404.63V82.78H405.20V81.10H407.80V79.08H412.10V78.07H412.57V76.72H413.03V75.38H413.50V74.03H420.80V73.02H422.50V71.51H424.20V69.99H435.50V68.47H448.40V66.46H474.70V65.95" fill="none" stroke="#2c4566" stroke-width="1.0" stroke-linejoin="miter" stroke-linecap="butt"/><path d="M370.10,161.90H381.70V111.40H388.70V60.90" fill="none" stroke="#b8405e" stroke-width="1.1" stroke-linejoin="miter" stroke-linecap="butt"/><line x1="448.00" y1="67.27" x2="448.00" y2="69.67" stroke="#2c4566" stroke-width="0.9"/><line x1="466.00" y1="65.26" x2="466.00" y2="67.66" stroke="#2c4566" stroke-width="0.9"/><rect x="391.70" y="101.80" width="61.47" height="14.70" fill="#ffffff"/><text x="392.30" y="106.80" text-anchor="start" fill="#4f6b90" font-size="6.1" stroke="#4f6b90" stroke-width="0.05" >92.0% (79.2%-97.0%)</text><text x="392.30" y="114.90" text-anchor="start" fill="#c64a66" font-size="6.1" stroke="#c64a66" stroke-width="0.05" >NA</text><text x="485.40" y="160.60" text-anchor="end" fill="#2a2a2a" font-size="6.2" stroke="#2a2a2a" stroke-width="0.05" ><tspan font-style="italic">P</tspan> = .5</text><text x="364.80" y="199.20" text-anchor="start" fill="#2a2a2a" font-size="6.0" stroke="#2a2a2a" stroke-width="0.05" >Number at risk</text><line x1="350.70" y1="206.80" x2="359.90" y2="206.80" stroke="#7590a6" stroke-width="1.0"/><line x1="350.70" y1="216.60" x2="359.90" y2="216.60" stroke="#c06a82" stroke-width="1.0"/><text x="370.10" y="209.00" text-anchor="middle" fill="#2a2a2a" font-size="6.2" stroke="#2a2a2a" stroke-width="0.12" >59</text><text x="370.10" y="218.80" text-anchor="middle" fill="#2a2a2a" font-size="6.2" stroke="#2a2a2a" stroke-width="0.12" >2</text><text x="393.34" y="209.00" text-anchor="middle" fill="#2a2a2a" font-size="6.2" stroke="#2a2a2a" stroke-width="0.12" >22</text><text x="393.34" y="218.80" text-anchor="middle" fill="#2a2a2a" font-size="6.2" stroke="#2a2a2a" stroke-width="0.12" >0</text><text x="416.58" y="209.00" text-anchor="middle" fill="#2a2a2a" font-size="6.2" stroke="#2a2a2a" stroke-width="0.12" >7</text><text x="416.58" y="218.80" text-anchor="middle" fill="#2a2a2a" font-size="6.2" stroke="#2a2a2a" stroke-width="0.12" >0</text><text x="439.82" y="209.00" text-anchor="middle" fill="#2a2a2a" font-size="6.2" stroke="#2a2a2a" stroke-width="0.12" >4</text><text x="439.82" y="218.80" text-anchor="middle" fill="#2a2a2a" font-size="6.2" stroke="#2a2a2a" stroke-width="0.12" >0</text><text x="463.06" y="209.00" text-anchor="middle" fill="#2a2a2a" font-size="6.2" stroke="#2a2a2a" stroke-width="0.12" >1</text><text x="463.06" y="218.80" text-anchor="middle" fill="#2a2a2a" font-size="6.2" stroke="#2a2a2a" stroke-width="0.12" >0</text><text x="486.30" y="209.00" text-anchor="middle" fill="#2a2a2a" font-size="6.2" stroke="#2a2a2a" stroke-width="0.12" >0</text><text x="486.30" y="218.80" text-anchor="middle" fill="#2a2a2a" font-size="6.2" stroke="#2a2a2a" stroke-width="0.12" >0</text><line x1="371.94" y1="229.00" x2="380.14" y2="229.00" stroke="#46526a" stroke-width="0.85"/><text x="383.14" y="231.10" text-anchor="start" fill="#2a2a2a" font-size="6.25" stroke="#2a2a2a" stroke-width="0.05" >Absent (n = 59)</text><line x1="432.25" y1="229.00" x2="440.25" y2="229.00" stroke="#b8405e" stroke-width="0.85"/><text x="442.85" y="231.10" text-anchor="start" fill="#2a2a2a" font-size="6.25" stroke="#2a2a2a" stroke-width="0.05" >Present (n = 2)</text><text x="28.10" y="250.10" text-anchor="start" fill="#2a2a2a" font-size="5.8" stroke="#2a2a2a" stroke-width="0.05" >Failure-free</text><text x="28.10" y="257.00" text-anchor="start" fill="#2a2a2a" font-size="5.8" stroke="#2a2a2a" stroke-width="0.05" >survival</text><text x="47.00" y="264.80" text-anchor="start" fill="#2a2a2a" font-size="6.0" stroke="#2a2a2a" stroke-width="0.05" >3 years</text><text x="166.80" y="250.10" text-anchor="end" fill="#2a2a2a" font-size="6.0" stroke="#2a2a2a" stroke-width="0.05" >Presence of mutations in</text><text x="166.80" y="257.10" text-anchor="end" fill="#2a2a2a" font-size="6.0" stroke="#2a2a2a" stroke-width="0.05" >activated signaling or myeloid</text><text x="166.80" y="264.10" text-anchor="end" fill="#2a2a2a" font-size="6.0" stroke="#2a2a2a" stroke-width="0.05" >TFs from overall patients (n = 252)</text><path d="M47.30,274.55H55.50H55.90V276.33H56.30V278.11H56.70V279.89H57.10V281.67H60.90V283.19H64.00V284.47H67.10V285.74H68.25V287.26H69.40V288.79H70.43V290.14H71.47V291.50H72.50V292.86H77.80V294.89H80.15V296.16H82.50V297.43H90.20V297.94H102.50V298.96H113.20V299.98H124.00V300.48H140.50V300.99H159.70V302.52H163.20V303.03" fill="none" stroke="#2c4566" stroke-width="1.15" stroke-linejoin="miter" stroke-linecap="butt"/><path d="M47.30,274.55H57.50V287.26H58.00V299.98H59.40V306.08H72.50V320.31H103.10V326.93H153.60V336.59H163.20" fill="none" stroke="#b8405e" stroke-width="1.1" stroke-linejoin="miter" stroke-linecap="butt"/><line x1="67.80" y1="304.88" x2="67.80" y2="307.28" stroke="#b8405e" stroke-width="0.9"/><line x1="136.20" y1="325.73" x2="136.20" y2="328.13" stroke="#b8405e" stroke-width="0.9"/><line x1="59.00" y1="280.57" x2="59.00" y2="282.77" stroke="#2c4566" stroke-width="0.9"/><line x1="63.00" y1="282.09" x2="63.00" y2="284.29" stroke="#2c4566" stroke-width="0.9"/><line x1="66.00" y1="283.37" x2="66.00" y2="285.57" stroke="#2c4566" stroke-width="0.9"/><line x1="71.00" y1="289.04" x2="71.00" y2="291.24" stroke="#2c4566" stroke-width="0.9"/><line x1="75.00" y1="291.76" x2="75.00" y2="293.96" stroke="#2c4566" stroke-width="0.9"/><line x1="80.00" y1="293.79" x2="80.00" y2="295.99" stroke="#2c4566" stroke-width="0.9"/><line x1="84.00" y1="296.33" x2="84.00" y2="298.53" stroke="#2c4566" stroke-width="0.9"/><line x1="87.00" y1="296.33" x2="87.00" y2="298.53" stroke="#2c4566" stroke-width="0.9"/><line x1="90.00" y1="296.33" x2="90.00" y2="298.53" stroke="#2c4566" stroke-width="0.9"/><line x1="93.00" y1="296.84" x2="93.00" y2="299.04" stroke="#2c4566" stroke-width="0.9"/><line x1="96.00" y1="296.84" x2="96.00" y2="299.04" stroke="#2c4566" stroke-width="0.9"/><line x1="99.00" y1="296.84" x2="99.00" y2="299.04" stroke="#2c4566" stroke-width="0.9"/><line x1="102.00" y1="296.84" x2="102.00" y2="299.04" stroke="#2c4566" stroke-width="0.9"/><line x1="105.00" y1="297.86" x2="105.00" y2="300.06" stroke="#2c4566" stroke-width="0.9"/><line x1="108.00" y1="297.86" x2="108.00" y2="300.06" stroke="#2c4566" stroke-width="0.9"/><line x1="111.00" y1="297.86" x2="111.00" y2="300.06" stroke="#2c4566" stroke-width="0.9"/><line x1="114.00" y1="298.88" x2="114.00" y2="301.08" stroke="#2c4566" stroke-width="0.9"/><line x1="117.00" y1="298.88" x2="117.00" y2="301.08" stroke="#2c4566" stroke-width="0.9"/><line x1="120.00" y1="298.88" x2="120.00" y2="301.08" stroke="#2c4566" stroke-width="0.9"/><line x1="124.00" y1="299.38" x2="124.00" y2="301.58" stroke="#2c4566" stroke-width="0.9"/><line x1="128.00" y1="299.38" x2="128.00" y2="301.58" stroke="#2c4566" stroke-width="0.9"/><line x1="132.00" y1="299.38" x2="132.00" y2="301.58" stroke="#2c4566" stroke-width="0.9"/><line x1="136.00" y1="299.38" x2="136.00" y2="301.58" stroke="#2c4566" stroke-width="0.9"/><line x1="140.00" y1="299.38" x2="140.00" y2="301.58" stroke="#2c4566" stroke-width="0.9"/><line x1="144.00" y1="299.89" x2="144.00" y2="302.09" stroke="#2c4566" stroke-width="0.9"/><line x1="148.00" y1="299.89" x2="148.00" y2="302.09" stroke="#2c4566" stroke-width="0.9"/><line x1="152.00" y1="299.89" x2="152.00" y2="302.09" stroke="#2c4566" stroke-width="0.9"/><line x1="156.00" y1="299.89" x2="156.00" y2="302.09" stroke="#2c4566" stroke-width="0.9"/><line x1="160.00" y1="301.42" x2="160.00" y2="303.62" stroke="#2c4566" stroke-width="0.9"/><rect x="107.30" y="307.20" width="62.07" height="15.20" fill="#ffffff"/><text x="108.50" y="312.20" text-anchor="start" fill="#4f6b90" font-size="6.1" stroke="#4f6b90" stroke-width="0.05" >72.1% (65.4%-77.7%)</text><text x="107.90" y="320.80" text-anchor="start" fill="#c64a66" font-size="6.1" stroke="#c64a66" stroke-width="0.05" >38.5% (14.2%-62.7%)</text><text x="162.60" y="374.60" text-anchor="end" fill="#2a2a2a" font-size="6.2" stroke="#2a2a2a" stroke-width="0.05" ><tspan font-style="italic">P</tspan> = .00166</text><text x="41.70" y="413.50" text-anchor="start" fill="#2a2a2a" font-size="6.0" stroke="#2a2a2a" stroke-width="0.05" >Number at risk</text><line x1="27.60" y1="421.10" x2="36.80" y2="421.10" stroke="#7590a6" stroke-width="1.0"/><line x1="27.60" y1="430.90" x2="36.80" y2="430.90" stroke="#c06a82" stroke-width="1.0"/><text x="47.30" y="423.30" text-anchor="middle" fill="#2a2a2a" font-size="6.2" stroke="#2a2a2a" stroke-width="0.12" >236</text><text x="47.30" y="433.10" text-anchor="middle" fill="#2a2a2a" font-size="6.2" stroke="#2a2a2a" stroke-width="0.12" >16</text><text x="70.44" y="423.30" text-anchor="middle" fill="#2a2a2a" font-size="6.2" stroke="#2a2a2a" stroke-width="0.12" >191</text><text x="70.44" y="433.10" text-anchor="middle" fill="#2a2a2a" font-size="6.2" stroke="#2a2a2a" stroke-width="0.12" >10</text><text x="93.58" y="423.30" text-anchor="middle" fill="#2a2a2a" font-size="6.2" stroke="#2a2a2a" stroke-width="0.12" >155</text><text x="93.58" y="433.10" text-anchor="middle" fill="#2a2a2a" font-size="6.2" stroke="#2a2a2a" stroke-width="0.12" >8</text><text x="116.72" y="423.30" text-anchor="middle" fill="#2a2a2a" font-size="6.2" stroke="#2a2a2a" stroke-width="0.12" >127</text><text x="116.72" y="433.10" text-anchor="middle" fill="#2a2a2a" font-size="6.2" stroke="#2a2a2a" stroke-width="0.12" >7</text><text x="139.86" y="423.30" text-anchor="middle" fill="#2a2a2a" font-size="6.2" stroke="#2a2a2a" stroke-width="0.12" >101</text><text x="139.86" y="433.10" text-anchor="middle" fill="#2a2a2a" font-size="6.2" stroke="#2a2a2a" stroke-width="0.12" >5</text><text x="163.00" y="423.30" text-anchor="middle" fill="#2a2a2a" font-size="6.2" stroke="#2a2a2a" stroke-width="0.12" >93</text><text x="163.00" y="433.10" text-anchor="middle" fill="#2a2a2a" font-size="6.2" stroke="#2a2a2a" stroke-width="0.12" >3</text><line x1="44.96" y1="443.30" x2="53.16" y2="443.30" stroke="#46526a" stroke-width="0.85"/><text x="56.16" y="445.40" text-anchor="start" fill="#2a2a2a" font-size="6.25" stroke="#2a2a2a" stroke-width="0.05" >Absent (n = 236)</text><line x1="108.75" y1="443.30" x2="116.75" y2="443.30" stroke="#b8405e" stroke-width="0.85"/><text x="119.35" y="445.40" text-anchor="start" fill="#2a2a2a" font-size="6.25" stroke="#2a2a2a" stroke-width="0.05" >Present (n = 16)</text><text x="209.00" y="264.60" text-anchor="start" fill="#2a2a2a" font-size="6.0" stroke="#2a2a2a" stroke-width="0.05" >3 years</text><text x="330.40" y="250.10" text-anchor="end" fill="#2a2a2a" font-size="6.0" stroke="#2a2a2a" stroke-width="0.05" >Presence of mutations in activated</text><text x="330.40" y="257.10" text-anchor="end" fill="#2a2a2a" font-size="6.0" stroke="#2a2a2a" stroke-width="0.05" >signaling or myeloid TFs from</text><text x="330.40" y="264.10" text-anchor="end" fill="#2a2a2a" font-size="6.0" stroke="#2a2a2a" stroke-width="0.05" >Imatinib-treated patients (n = 190)</text><path d="M209.00,274.55H218.10H218.38V276.24H218.67V277.94H218.95V279.63H219.23V281.32H219.52V283.02H219.80V284.71H225.90V285.73H228.50V287.50H231.10V289.28H231.70V291.14H232.30V293.01H232.90V294.87H236.35V296.14H239.80V297.41H242.45V298.68H245.10V299.95H257.30V300.97H271.20V302.49H286.40V304.52H302.00V305.03H314.20V305.54H326.40V307.57" fill="none" stroke="#2c4566" stroke-width="1.15" stroke-linejoin="miter" stroke-linecap="butt"/><path d="M209.00,274.55H218.60V303.51H221.60V310.11H234.30V318.24H235.50V326.87H264.80V335.00H315.60V345.16H325.60" fill="none" stroke="#b8405e" stroke-width="1.1" stroke-linejoin="miter" stroke-linecap="butt"/><line x1="228.00" y1="308.91" x2="228.00" y2="311.31" stroke="#b8405e" stroke-width="0.9"/><line x1="296.00" y1="333.80" x2="296.00" y2="336.20" stroke="#b8405e" stroke-width="0.9"/><line x1="222.00" y1="283.61" x2="222.00" y2="285.81" stroke="#2c4566" stroke-width="0.9"/><line x1="227.00" y1="284.63" x2="227.00" y2="286.83" stroke="#2c4566" stroke-width="0.9"/><line x1="236.00" y1="293.77" x2="236.00" y2="295.97" stroke="#2c4566" stroke-width="0.9"/><line x1="242.00" y1="296.31" x2="242.00" y2="298.51" stroke="#2c4566" stroke-width="0.9"/><line x1="248.00" y1="298.85" x2="248.00" y2="301.05" stroke="#2c4566" stroke-width="0.9"/><line x1="252.00" y1="298.85" x2="252.00" y2="301.05" stroke="#2c4566" stroke-width="0.9"/><line x1="256.00" y1="298.85" x2="256.00" y2="301.05" stroke="#2c4566" stroke-width="0.9"/><line x1="260.00" y1="299.87" x2="260.00" y2="302.07" stroke="#2c4566" stroke-width="0.9"/><line x1="264.00" y1="299.87" x2="264.00" y2="302.07" stroke="#2c4566" stroke-width="0.9"/><line x1="268.00" y1="299.87" x2="268.00" y2="302.07" stroke="#2c4566" stroke-width="0.9"/><line x1="272.00" y1="301.39" x2="272.00" y2="303.59" stroke="#2c4566" stroke-width="0.9"/><line x1="276.00" y1="301.39" x2="276.00" y2="303.59" stroke="#2c4566" stroke-width="0.9"/><line x1="280.00" y1="301.39" x2="280.00" y2="303.59" stroke="#2c4566" stroke-width="0.9"/><line x1="284.00" y1="301.39" x2="284.00" y2="303.59" stroke="#2c4566" stroke-width="0.9"/><line x1="288.00" y1="303.42" x2="288.00" y2="305.62" stroke="#2c4566" stroke-width="0.9"/><line x1="292.00" y1="303.42" x2="292.00" y2="305.62" stroke="#2c4566" stroke-width="0.9"/><line x1="296.00" y1="303.42" x2="296.00" y2="305.62" stroke="#2c4566" stroke-width="0.9"/><line x1="300.00" y1="303.42" x2="300.00" y2="305.62" stroke="#2c4566" stroke-width="0.9"/><line x1="305.00" y1="303.93" x2="305.00" y2="306.13" stroke="#2c4566" stroke-width="0.9"/><line x1="310.00" y1="303.93" x2="310.00" y2="306.13" stroke="#2c4566" stroke-width="0.9"/><line x1="315.00" y1="304.44" x2="315.00" y2="306.64" stroke="#2c4566" stroke-width="0.9"/><line x1="320.00" y1="304.44" x2="320.00" y2="306.64" stroke="#2c4566" stroke-width="0.9"/><rect x="268.90" y="312.10" width="61.47" height="15.30" fill="#ffffff"/><text x="269.50" y="317.10" text-anchor="start" fill="#4f6b90" font-size="6.1" stroke="#4f6b90" stroke-width="0.05" >67.5% (59.4%-74.3%)</text><text x="269.50" y="325.80" text-anchor="start" fill="#c64a66" font-size="6.1" stroke="#c64a66" stroke-width="0.05" >30.1% (8.4%-56.0%)</text><text x="324.30" y="374.60" text-anchor="end" fill="#2a2a2a" font-size="6.2" stroke="#2a2a2a" stroke-width="0.05" ><tspan font-style="italic">P</tspan> = .00193</text><text x="203.60" y="413.40" text-anchor="start" fill="#2a2a2a" font-size="6.0" stroke="#2a2a2a" stroke-width="0.05" >Number at risk</text><line x1="189.50" y1="421.00" x2="198.70" y2="421.00" stroke="#7590a6" stroke-width="1.0"/><line x1="189.50" y1="430.80" x2="198.70" y2="430.80" stroke="#c06a82" stroke-width="1.0"/><text x="209.00" y="423.20" text-anchor="middle" fill="#2a2a2a" font-size="6.2" stroke="#2a2a2a" stroke-width="0.12" >176</text><text x="209.00" y="433.00" text-anchor="middle" fill="#2a2a2a" font-size="6.2" stroke="#2a2a2a" stroke-width="0.12" >14</text><text x="232.32" y="423.20" text-anchor="middle" fill="#2a2a2a" font-size="6.2" stroke="#2a2a2a" stroke-width="0.12" >134</text><text x="232.32" y="433.00" text-anchor="middle" fill="#2a2a2a" font-size="6.2" stroke="#2a2a2a" stroke-width="0.12" >8</text><text x="255.64" y="423.20" text-anchor="middle" fill="#2a2a2a" font-size="6.2" stroke="#2a2a2a" stroke-width="0.12" >108</text><text x="255.64" y="433.00" text-anchor="middle" fill="#2a2a2a" font-size="6.2" stroke="#2a2a2a" stroke-width="0.12" >6</text><text x="278.96" y="423.20" text-anchor="middle" fill="#2a2a2a" font-size="6.2" stroke="#2a2a2a" stroke-width="0.12" >88</text><text x="278.96" y="433.00" text-anchor="middle" fill="#2a2a2a" font-size="6.2" stroke="#2a2a2a" stroke-width="0.12" >5</text><text x="302.28" y="423.20" text-anchor="middle" fill="#2a2a2a" font-size="6.2" stroke="#2a2a2a" stroke-width="0.12" >75</text><text x="302.28" y="433.00" text-anchor="middle" fill="#2a2a2a" font-size="6.2" stroke="#2a2a2a" stroke-width="0.12" >4</text><text x="325.60" y="423.20" text-anchor="middle" fill="#2a2a2a" font-size="6.2" stroke="#2a2a2a" stroke-width="0.12" >72</text><text x="325.60" y="433.00" text-anchor="middle" fill="#2a2a2a" font-size="6.2" stroke="#2a2a2a" stroke-width="0.12" >3</text><line x1="207.66" y1="443.20" x2="215.86" y2="443.20" stroke="#46526a" stroke-width="0.85"/><text x="218.86" y="445.30" text-anchor="start" fill="#2a2a2a" font-size="6.25" stroke="#2a2a2a" stroke-width="0.05" >Absent (n = 176)</text><line x1="271.45" y1="443.20" x2="279.45" y2="443.20" stroke="#b8405e" stroke-width="0.85"/><text x="282.05" y="445.30" text-anchor="start" fill="#2a2a2a" font-size="6.25" stroke="#2a2a2a" stroke-width="0.05" >Present (n = 14)</text><text x="370.00" y="264.60" text-anchor="start" fill="#2a2a2a" font-size="6.0" stroke="#2a2a2a" stroke-width="0.05" >3 years</text><text x="490.20" y="250.10" text-anchor="end" fill="#2a2a2a" font-size="6.0" stroke="#2a2a2a" stroke-width="0.05" >Presence of mutations in activated</text><text x="490.20" y="257.10" text-anchor="end" fill="#2a2a2a" font-size="6.0" stroke="#2a2a2a" stroke-width="0.05" >signaling or myeloid TFs from</text><text x="490.20" y="264.10" text-anchor="end" fill="#2a2a2a" font-size="6.0" stroke="#2a2a2a" stroke-width="0.05" >2GTKI-treated patients (n = 252)</text><path d="M369.90,273.55H386.25V275.60H394.50V281.76H403.75V284.32H429.50V287.81H488.50" fill="none" stroke="#2c4566" stroke-width="1.1" stroke-linejoin="miter" stroke-linecap="butt"/><line x1="398.00" y1="280.66" x2="398.00" y2="282.86" stroke="#2c4566" stroke-width="0.9"/><line x1="408.00" y1="283.22" x2="408.00" y2="285.42" stroke="#2c4566" stroke-width="0.9"/><line x1="414.00" y1="283.22" x2="414.00" y2="285.42" stroke="#2c4566" stroke-width="0.9"/><line x1="420.00" y1="283.22" x2="420.00" y2="285.42" stroke="#2c4566" stroke-width="0.9"/><line x1="426.00" y1="283.22" x2="426.00" y2="285.42" stroke="#2c4566" stroke-width="0.9"/><line x1="434.00" y1="286.71" x2="434.00" y2="288.91" stroke="#2c4566" stroke-width="0.9"/><line x1="440.00" y1="286.71" x2="440.00" y2="288.91" stroke="#2c4566" stroke-width="0.9"/><line x1="446.00" y1="286.71" x2="446.00" y2="288.91" stroke="#2c4566" stroke-width="0.9"/><line x1="452.00" y1="286.71" x2="452.00" y2="288.91" stroke="#2c4566" stroke-width="0.9"/><line x1="458.00" y1="286.71" x2="458.00" y2="288.91" stroke="#2c4566" stroke-width="0.9"/><line x1="464.00" y1="286.71" x2="464.00" y2="288.91" stroke="#2c4566" stroke-width="0.9"/><line x1="470.00" y1="286.71" x2="470.00" y2="288.91" stroke="#2c4566" stroke-width="0.9"/><line x1="476.00" y1="286.71" x2="476.00" y2="288.91" stroke="#2c4566" stroke-width="0.9"/><line x1="482.00" y1="286.71" x2="482.00" y2="288.91" stroke="#2c4566" stroke-width="0.9"/><path d="M369.90,273.55H487.00" fill="none" stroke="#b8405e" stroke-width="1.1" stroke-linejoin="miter" stroke-linecap="butt"/><line x1="460.00" y1="272.35" x2="460.00" y2="274.75" stroke="#b8405e" stroke-width="0.9"/><rect x="433.20" y="298.40" width="61.47" height="15.30" fill="#ffffff"/><text x="433.80" y="303.40" text-anchor="start" fill="#4f6b90" font-size="6.1" stroke="#4f6b90" stroke-width="0.05" >86.1% (74.2%-92.8%)</text><text x="433.80" y="312.10" text-anchor="start" fill="#c64a66" font-size="6.1" stroke="#c64a66" stroke-width="0.05" >100%</text><text x="485.90" y="374.60" text-anchor="end" fill="#2a2a2a" font-size="6.2" stroke="#2a2a2a" stroke-width="0.05" ><tspan font-style="italic">P</tspan> = .586</text><text x="364.80" y="413.40" text-anchor="start" fill="#2a2a2a" font-size="6.0" stroke="#2a2a2a" stroke-width="0.05" >Number at risk</text><line x1="350.70" y1="421.00" x2="359.90" y2="421.00" stroke="#7590a6" stroke-width="1.0"/><line x1="350.70" y1="430.80" x2="359.90" y2="430.80" stroke="#c06a82" stroke-width="1.0"/><text x="369.90" y="423.20" text-anchor="middle" fill="#2a2a2a" font-size="6.2" stroke="#2a2a2a" stroke-width="0.12" >60</text><text x="369.90" y="433.00" text-anchor="middle" fill="#2a2a2a" font-size="6.2" stroke="#2a2a2a" stroke-width="0.12" >2</text><text x="393.45" y="423.20" text-anchor="middle" fill="#2a2a2a" font-size="6.2" stroke="#2a2a2a" stroke-width="0.12" >57</text><text x="393.45" y="433.00" text-anchor="middle" fill="#2a2a2a" font-size="6.2" stroke="#2a2a2a" stroke-width="0.12" >2</text><text x="417.00" y="423.20" text-anchor="middle" fill="#2a2a2a" font-size="6.2" stroke="#2a2a2a" stroke-width="0.12" >47</text><text x="417.00" y="433.00" text-anchor="middle" fill="#2a2a2a" font-size="6.2" stroke="#2a2a2a" stroke-width="0.12" >2</text><text x="440.55" y="423.20" text-anchor="middle" fill="#2a2a2a" font-size="6.2" stroke="#2a2a2a" stroke-width="0.12" >39</text><text x="440.55" y="433.00" text-anchor="middle" fill="#2a2a2a" font-size="6.2" stroke="#2a2a2a" stroke-width="0.12" >2</text><text x="464.10" y="423.20" text-anchor="middle" fill="#2a2a2a" font-size="6.2" stroke="#2a2a2a" stroke-width="0.12" >26</text><text x="464.10" y="433.00" text-anchor="middle" fill="#2a2a2a" font-size="6.2" stroke="#2a2a2a" stroke-width="0.12" >1</text><text x="487.65" y="423.20" text-anchor="middle" fill="#2a2a2a" font-size="6.2" stroke="#2a2a2a" stroke-width="0.12" >21</text><text x="487.65" y="433.00" text-anchor="middle" fill="#2a2a2a" font-size="6.2" stroke="#2a2a2a" stroke-width="0.12" >0</text><line x1="372.94" y1="443.20" x2="381.14" y2="443.20" stroke="#46526a" stroke-width="0.85"/><text x="384.14" y="445.30" text-anchor="start" fill="#2a2a2a" font-size="6.25" stroke="#2a2a2a" stroke-width="0.05" >Absent (n = 60)</text><line x1="433.25" y1="443.20" x2="441.25" y2="443.20" stroke="#b8405e" stroke-width="0.85"/><text x="443.85" y="445.30" text-anchor="start" fill="#2a2a2a" font-size="6.25" stroke="#2a2a2a" stroke-width="0.05" >Present (n = 2)</text><text x="28.10" y="464.20" text-anchor="start" fill="#2a2a2a" font-size="5.85" stroke="#2a2a2a" stroke-width="0.05" >Overall survival</text><text x="47.50" y="478.80" text-anchor="start" fill="#2a2a2a" font-size="6.0" stroke="#2a2a2a" stroke-width="0.05" >10 years</text><text x="166.80" y="464.20" text-anchor="end" fill="#2a2a2a" font-size="6.0" stroke="#2a2a2a" stroke-width="0.05" >Presence of mutations in</text><text x="166.80" y="471.20" text-anchor="end" fill="#2a2a2a" font-size="6.0" stroke="#2a2a2a" stroke-width="0.05" >activated signaling or myeloid</text><text x="166.80" y="478.20" text-anchor="end" fill="#2a2a2a" font-size="6.0" stroke="#2a2a2a" stroke-width="0.05" >TFs from overall patients (n = 252)</text><path d="M47.00,489.15H51.70V490.67H53.60V492.44H55.50V494.20H56.80V495.89H58.10V497.57H59.40V499.26H60.67V500.61H61.93V501.96H63.20V503.30H64.50V504.65H65.80V506.00H67.10V507.35H71.70V508.86H79.40V509.37H81.70V510.89H84.00V512.40H93.20V512.91H97.10V514.93H99.80V516.19H102.50V517.46H107.10V519.48H163.50" fill="none" stroke="#2c4566" stroke-width="1.2" stroke-linejoin="miter" stroke-linecap="butt"/><line x1="49.00" y1="487.85" x2="49.00" y2="490.45" stroke="#2c4566" stroke-width="1.0"/><line x1="51.00" y1="487.85" x2="51.00" y2="490.45" stroke="#2c4566" stroke-width="1.0"/><line x1="53.00" y1="489.37" x2="53.00" y2="491.97" stroke="#2c4566" stroke-width="1.0"/><line x1="56.00" y1="492.90" x2="56.00" y2="495.50" stroke="#2c4566" stroke-width="1.0"/><line x1="58.00" y1="494.59" x2="58.00" y2="497.19" stroke="#2c4566" stroke-width="1.0"/><line x1="61.00" y1="499.31" x2="61.00" y2="501.91" stroke="#2c4566" stroke-width="1.0"/><line x1="64.00" y1="502.00" x2="64.00" y2="504.60" stroke="#2c4566" stroke-width="1.0"/><line x1="66.00" y1="504.70" x2="66.00" y2="507.30" stroke="#2c4566" stroke-width="1.0"/><line x1="69.00" y1="506.05" x2="69.00" y2="508.65" stroke="#2c4566" stroke-width="1.0"/><line x1="72.00" y1="507.56" x2="72.00" y2="510.16" stroke="#2c4566" stroke-width="1.0"/><line x1="74.00" y1="507.56" x2="74.00" y2="510.16" stroke="#2c4566" stroke-width="1.0"/><line x1="77.00" y1="507.56" x2="77.00" y2="510.16" stroke="#2c4566" stroke-width="1.0"/><line x1="80.00" y1="508.07" x2="80.00" y2="510.67" stroke="#2c4566" stroke-width="1.0"/><line x1="83.00" y1="509.59" x2="83.00" y2="512.19" stroke="#2c4566" stroke-width="1.0"/><line x1="86.00" y1="511.10" x2="86.00" y2="513.70" stroke="#2c4566" stroke-width="1.0"/><line x1="89.00" y1="511.10" x2="89.00" y2="513.70" stroke="#2c4566" stroke-width="1.0"/><line x1="92.00" y1="511.10" x2="92.00" y2="513.70" stroke="#2c4566" stroke-width="1.0"/><line x1="95.00" y1="511.61" x2="95.00" y2="514.21" stroke="#2c4566" stroke-width="1.0"/><line x1="98.00" y1="513.63" x2="98.00" y2="516.23" stroke="#2c4566" stroke-width="1.0"/><line x1="100.00" y1="514.89" x2="100.00" y2="517.49" stroke="#2c4566" stroke-width="1.0"/><line x1="103.00" y1="516.16" x2="103.00" y2="518.76" stroke="#2c4566" stroke-width="1.0"/><line x1="106.00" y1="516.16" x2="106.00" y2="518.76" stroke="#2c4566" stroke-width="1.0"/><line x1="108.00" y1="518.18" x2="108.00" y2="520.78" stroke="#2c4566" stroke-width="1.0"/><line x1="110.00" y1="518.18" x2="110.00" y2="520.78" stroke="#2c4566" stroke-width="1.0"/><line x1="112.00" y1="518.18" x2="112.00" y2="520.78" stroke="#2c4566" stroke-width="1.0"/><line x1="114.00" y1="518.18" x2="114.00" y2="520.78" stroke="#2c4566" stroke-width="1.0"/><line x1="116.00" y1="518.18" x2="116.00" y2="520.78" stroke="#2c4566" stroke-width="1.0"/><line x1="118.00" y1="518.18" x2="118.00" y2="520.78" stroke="#2c4566" stroke-width="1.0"/><line x1="121.00" y1="518.18" x2="121.00" y2="520.78" stroke="#2c4566" stroke-width="1.0"/><line x1="124.00" y1="518.18" x2="124.00" y2="520.78" stroke="#2c4566" stroke-width="1.0"/><line x1="126.00" y1="518.18" x2="126.00" y2="520.78" stroke="#2c4566" stroke-width="1.0"/><line x1="129.00" y1="518.18" x2="129.00" y2="520.78" stroke="#2c4566" stroke-width="1.0"/><line x1="132.00" y1="518.18" x2="132.00" y2="520.78" stroke="#2c4566" stroke-width="1.0"/><line x1="135.00" y1="518.18" x2="135.00" y2="520.78" stroke="#2c4566" stroke-width="1.0"/><line x1="138.00" y1="518.18" x2="138.00" y2="520.78" stroke="#2c4566" stroke-width="1.0"/><line x1="141.00" y1="518.18" x2="141.00" y2="520.78" stroke="#2c4566" stroke-width="1.0"/><line x1="144.00" y1="518.18" x2="144.00" y2="520.78" stroke="#2c4566" stroke-width="1.0"/><line x1="147.00" y1="518.18" x2="147.00" y2="520.78" stroke="#2c4566" stroke-width="1.0"/><line x1="150.00" y1="518.18" x2="150.00" y2="520.78" stroke="#2c4566" stroke-width="1.0"/><line x1="153.00" y1="518.18" x2="153.00" y2="520.78" stroke="#2c4566" stroke-width="1.0"/><line x1="156.00" y1="518.18" x2="156.00" y2="520.78" stroke="#2c4566" stroke-width="1.0"/><line x1="159.00" y1="518.18" x2="159.00" y2="520.78" stroke="#2c4566" stroke-width="1.0"/><line x1="162.00" y1="518.18" x2="162.00" y2="520.78" stroke="#2c4566" stroke-width="1.0"/><path d="M47.00,489.15H49.40V495.72H54.00V502.50H62.50V509.37H64.80V516.14H67.10V523.52H74.00V533.63H81.60V543.14H126.60V590.25" fill="none" stroke="#b8405e" stroke-width="1.1" stroke-linejoin="miter" stroke-linecap="butt"/><line x1="113.00" y1="541.94" x2="113.00" y2="544.34" stroke="#b8405e" stroke-width="0.9"/><line x1="118.00" y1="541.94" x2="118.00" y2="544.34" stroke="#b8405e" stroke-width="0.9"/><rect x="106.70" y="525.30" width="61.47" height="14.50" fill="#ffffff"/><text x="107.30" y="530.30" text-anchor="start" fill="#4f6b90" font-size="6.1" stroke="#4f6b90" stroke-width="0.05" >72.5% (64.8%-78.7%)</text><text x="107.30" y="538.20" text-anchor="start" fill="#c64a66" font-size="6.1" stroke="#c64a66" stroke-width="0.05" >46.6% (18.6%-70.7%)</text><text x="163.00" y="587.40" text-anchor="end" fill="#2a2a2a" font-size="6.2" stroke="#2a2a2a" stroke-width="0.05" ><tspan font-style="italic">P</tspan> = .0166</text><text x="41.70" y="627.30" text-anchor="start" fill="#2a2a2a" font-size="6.0" stroke="#2a2a2a" stroke-width="0.05" >Number at risk</text><line x1="27.60" y1="634.90" x2="36.80" y2="634.90" stroke="#7590a6" stroke-width="1.0"/><line x1="27.60" y1="644.70" x2="36.80" y2="644.70" stroke="#c06a82" stroke-width="1.0"/><text x="47.00" y="637.10" text-anchor="middle" fill="#2a2a2a" font-size="6.2" stroke="#2a2a2a" stroke-width="0.12" >236</text><text x="47.00" y="646.90" text-anchor="middle" fill="#2a2a2a" font-size="6.2" stroke="#2a2a2a" stroke-width="0.12" >16</text><text x="74.12" y="637.10" text-anchor="middle" fill="#2a2a2a" font-size="6.2" stroke="#2a2a2a" stroke-width="0.12" >115</text><text x="74.12" y="646.90" text-anchor="middle" fill="#2a2a2a" font-size="6.2" stroke="#2a2a2a" stroke-width="0.12" >6</text><text x="101.25" y="637.10" text-anchor="middle" fill="#2a2a2a" font-size="6.2" stroke="#2a2a2a" stroke-width="0.12" >76</text><text x="101.25" y="646.90" text-anchor="middle" fill="#2a2a2a" font-size="6.2" stroke="#2a2a2a" stroke-width="0.12" >5</text><text x="128.38" y="637.10" text-anchor="middle" fill="#2a2a2a" font-size="6.2" stroke="#2a2a2a" stroke-width="0.12" >21</text><text x="128.38" y="646.90" text-anchor="middle" fill="#2a2a2a" font-size="6.2" stroke="#2a2a2a" stroke-width="0.12" >0</text><text x="155.50" y="637.10" text-anchor="middle" fill="#2a2a2a" font-size="6.2" stroke="#2a2a2a" stroke-width="0.12" >8</text><text x="155.50" y="646.90" text-anchor="middle" fill="#2a2a2a" font-size="6.2" stroke="#2a2a2a" stroke-width="0.12" >0</text><line x1="45.41" y1="657.10" x2="53.61" y2="657.10" stroke="#46526a" stroke-width="0.85"/><text x="56.61" y="659.20" text-anchor="start" fill="#2a2a2a" font-size="6.25" stroke="#2a2a2a" stroke-width="0.05" >Absent (n = 236)</text><line x1="109.20" y1="657.10" x2="117.20" y2="657.10" stroke="#b8405e" stroke-width="0.85"/><text x="119.80" y="659.20" text-anchor="start" fill="#2a2a2a" font-size="6.25" stroke="#2a2a2a" stroke-width="0.05" >Present (n = 16)</text><text x="210.20" y="478.80" text-anchor="start" fill="#2a2a2a" font-size="6.0" stroke="#2a2a2a" stroke-width="0.05" >10 years</text><text x="330.40" y="464.20" text-anchor="end" fill="#2a2a2a" font-size="6.0" stroke="#2a2a2a" stroke-width="0.05" >Presence of mutations in activated</text><text x="330.40" y="471.20" text-anchor="end" fill="#2a2a2a" font-size="6.0" stroke="#2a2a2a" stroke-width="0.05" >signaling or myeloid TFs from</text><text x="330.40" y="478.20" text-anchor="end" fill="#2a2a2a" font-size="6.0" stroke="#2a2a2a" stroke-width="0.05" >Imatinib-treated patients (n = 190)</text><path d="M208.90,489.60H211.90V491.91H213.85V493.42H215.80V494.93H217.07V496.50H218.33V498.08H219.60V499.66H220.63V501.16H221.67V502.67H222.70V504.18H223.85V505.81H225.00V507.45H226.15V509.08H227.30V510.72H230.00V511.97H232.70V513.23H241.20V514.23H243.10V515.99H245.00V517.75H254.20V518.76H257.30V520.27H260.40V521.78H264.25V523.54H268.10V525.30H324.70" fill="none" stroke="#2c4566" stroke-width="1.2" stroke-linejoin="miter" stroke-linecap="butt"/><line x1="211.00" y1="488.30" x2="211.00" y2="490.90" stroke="#2c4566" stroke-width="1.0"/><line x1="213.00" y1="490.61" x2="213.00" y2="493.21" stroke="#2c4566" stroke-width="1.0"/><line x1="215.00" y1="492.12" x2="215.00" y2="494.72" stroke="#2c4566" stroke-width="1.0"/><line x1="217.00" y1="493.63" x2="217.00" y2="496.23" stroke="#2c4566" stroke-width="1.0"/><line x1="219.00" y1="496.78" x2="219.00" y2="499.38" stroke="#2c4566" stroke-width="1.0"/><line x1="221.00" y1="499.86" x2="221.00" y2="502.46" stroke="#2c4566" stroke-width="1.0"/><line x1="224.00" y1="504.51" x2="224.00" y2="507.11" stroke="#2c4566" stroke-width="1.0"/><line x1="227.00" y1="507.78" x2="227.00" y2="510.38" stroke="#2c4566" stroke-width="1.0"/><line x1="230.00" y1="510.67" x2="230.00" y2="513.27" stroke="#2c4566" stroke-width="1.0"/><line x1="233.00" y1="511.93" x2="233.00" y2="514.53" stroke="#2c4566" stroke-width="1.0"/><line x1="236.00" y1="511.93" x2="236.00" y2="514.53" stroke="#2c4566" stroke-width="1.0"/><line x1="239.00" y1="511.93" x2="239.00" y2="514.53" stroke="#2c4566" stroke-width="1.0"/><line x1="242.00" y1="512.93" x2="242.00" y2="515.53" stroke="#2c4566" stroke-width="1.0"/><line x1="246.00" y1="516.45" x2="246.00" y2="519.05" stroke="#2c4566" stroke-width="1.0"/><line x1="249.00" y1="516.45" x2="249.00" y2="519.05" stroke="#2c4566" stroke-width="1.0"/><line x1="252.00" y1="516.45" x2="252.00" y2="519.05" stroke="#2c4566" stroke-width="1.0"/><line x1="255.00" y1="517.46" x2="255.00" y2="520.06" stroke="#2c4566" stroke-width="1.0"/><line x1="258.00" y1="518.97" x2="258.00" y2="521.57" stroke="#2c4566" stroke-width="1.0"/><line x1="261.00" y1="520.48" x2="261.00" y2="523.08" stroke="#2c4566" stroke-width="1.0"/><line x1="264.00" y1="520.48" x2="264.00" y2="523.08" stroke="#2c4566" stroke-width="1.0"/><line x1="267.00" y1="522.24" x2="267.00" y2="524.84" stroke="#2c4566" stroke-width="1.0"/><line x1="270.00" y1="524.00" x2="270.00" y2="526.60" stroke="#2c4566" stroke-width="1.0"/><line x1="273.00" y1="524.00" x2="273.00" y2="526.60" stroke="#2c4566" stroke-width="1.0"/><line x1="276.00" y1="524.00" x2="276.00" y2="526.60" stroke="#2c4566" stroke-width="1.0"/><line x1="279.00" y1="524.00" x2="279.00" y2="526.60" stroke="#2c4566" stroke-width="1.0"/><line x1="282.00" y1="524.00" x2="282.00" y2="526.60" stroke="#2c4566" stroke-width="1.0"/><line x1="285.00" y1="524.00" x2="285.00" y2="526.60" stroke="#2c4566" stroke-width="1.0"/><line x1="288.00" y1="524.00" x2="288.00" y2="526.60" stroke="#2c4566" stroke-width="1.0"/><line x1="291.00" y1="524.00" x2="291.00" y2="526.60" stroke="#2c4566" stroke-width="1.0"/><line x1="294.00" y1="524.00" x2="294.00" y2="526.60" stroke="#2c4566" stroke-width="1.0"/><line x1="297.00" y1="524.00" x2="297.00" y2="526.60" stroke="#2c4566" stroke-width="1.0"/><line x1="300.00" y1="524.00" x2="300.00" y2="526.60" stroke="#2c4566" stroke-width="1.0"/><line x1="303.00" y1="524.00" x2="303.00" y2="526.60" stroke="#2c4566" stroke-width="1.0"/><line x1="306.00" y1="524.00" x2="306.00" y2="526.60" stroke="#2c4566" stroke-width="1.0"/><line x1="309.00" y1="524.00" x2="309.00" y2="526.60" stroke="#2c4566" stroke-width="1.0"/><line x1="312.00" y1="524.00" x2="312.00" y2="526.60" stroke="#2c4566" stroke-width="1.0"/><line x1="315.00" y1="524.00" x2="315.00" y2="526.60" stroke="#2c4566" stroke-width="1.0"/><line x1="318.00" y1="524.00" x2="318.00" y2="526.60" stroke="#2c4566" stroke-width="1.0"/><line x1="321.00" y1="524.00" x2="321.00" y2="526.60" stroke="#2c4566" stroke-width="1.0"/><line x1="324.00" y1="524.00" x2="324.00" y2="526.60" stroke="#2c4566" stroke-width="1.0"/><path d="M208.90,489.60H211.20V496.64H216.10V504.18H224.20V512.73H226.50V521.27H228.40V530.12H242.70V540.48H287.10V590.15" fill="none" stroke="#b8405e" stroke-width="1.1" stroke-linejoin="miter" stroke-linecap="butt"/><line x1="270.00" y1="539.28" x2="270.00" y2="541.68" stroke="#b8405e" stroke-width="0.9"/><line x1="280.00" y1="539.28" x2="280.00" y2="541.68" stroke="#b8405e" stroke-width="0.9"/><text x="269.30" y="537.20" text-anchor="start" fill="#4f6b90" font-size="6.1" stroke="#4f6b90" stroke-width="0.05" >67.1% (58.2%-74.5%)</text><text x="268.60" y="547.30" text-anchor="start" fill="#c64a66" font-size="6.1" stroke="#c64a66" stroke-width="0.05" >49.7% (19.9%-73.8%)</text><text x="324.30" y="587.10" text-anchor="end" fill="#2a2a2a" font-size="6.2" stroke="#2a2a2a" stroke-width="0.05" ><tspan font-style="italic">P</tspan> = .0944</text><text x="203.60" y="627.30" text-anchor="start" fill="#2a2a2a" font-size="6.0" stroke="#2a2a2a" stroke-width="0.05" >Number at risk</text><line x1="189.50" y1="634.90" x2="198.70" y2="634.90" stroke="#7590a6" stroke-width="1.0"/><line x1="189.50" y1="644.70" x2="198.70" y2="644.70" stroke="#c06a82" stroke-width="1.0"/><text x="208.90" y="637.10" text-anchor="middle" fill="#2a2a2a" font-size="6.2" stroke="#2a2a2a" stroke-width="0.12" >176</text><text x="208.90" y="646.90" text-anchor="middle" fill="#2a2a2a" font-size="6.2" stroke="#2a2a2a" stroke-width="0.12" >14</text><text x="235.78" y="637.10" text-anchor="middle" fill="#2a2a2a" font-size="6.2" stroke="#2a2a2a" stroke-width="0.12" >91</text><text x="235.78" y="646.90" text-anchor="middle" fill="#2a2a2a" font-size="6.2" stroke="#2a2a2a" stroke-width="0.12" >6</text><text x="262.65" y="637.10" text-anchor="middle" fill="#2a2a2a" font-size="6.2" stroke="#2a2a2a" stroke-width="0.12" >63</text><text x="262.65" y="646.90" text-anchor="middle" fill="#2a2a2a" font-size="6.2" stroke="#2a2a2a" stroke-width="0.12" >5</text><text x="289.52" y="637.10" text-anchor="middle" fill="#2a2a2a" font-size="6.2" stroke="#2a2a2a" stroke-width="0.12" >21</text><text x="289.52" y="646.90" text-anchor="middle" fill="#2a2a2a" font-size="6.2" stroke="#2a2a2a" stroke-width="0.12" >0</text><text x="316.40" y="637.10" text-anchor="middle" fill="#2a2a2a" font-size="6.2" stroke="#2a2a2a" stroke-width="0.12" >8</text><text x="316.40" y="646.90" text-anchor="middle" fill="#2a2a2a" font-size="6.2" stroke="#2a2a2a" stroke-width="0.12" >0</text><line x1="206.96" y1="657.10" x2="215.16" y2="657.10" stroke="#46526a" stroke-width="0.85"/><text x="218.16" y="659.20" text-anchor="start" fill="#2a2a2a" font-size="6.25" stroke="#2a2a2a" stroke-width="0.05" >Absent (n = 176)</text><line x1="270.75" y1="657.10" x2="278.75" y2="657.10" stroke="#b8405e" stroke-width="0.85"/><text x="281.35" y="659.20" text-anchor="start" fill="#2a2a2a" font-size="6.25" stroke="#2a2a2a" stroke-width="0.05" >Present (n = 14)</text><text x="368.70" y="478.80" text-anchor="start" fill="#2a2a2a" font-size="6.0" stroke="#2a2a2a" stroke-width="0.05" >10 years</text><text x="490.20" y="464.20" text-anchor="end" fill="#2a2a2a" font-size="6.0" stroke="#2a2a2a" stroke-width="0.05" >Presence of mutations in activated</text><text x="490.20" y="471.20" text-anchor="end" fill="#2a2a2a" font-size="6.0" stroke="#2a2a2a" stroke-width="0.05" >signaling or myeloid TFs from</text><text x="490.20" y="478.20" text-anchor="end" fill="#2a2a2a" font-size="6.0" stroke="#2a2a2a" stroke-width="0.05" >2GTKI-treated patients (n = 62)</text><path d="M370.10,491.45H380.60V494.42H388.40V498.18H448.90" fill="none" stroke="#2c4566" stroke-width="1.2" stroke-linejoin="miter" stroke-linecap="butt"/><line x1="378.00" y1="490.25" x2="378.00" y2="492.65" stroke="#2c4566" stroke-width="1.0"/><line x1="385.00" y1="493.22" x2="385.00" y2="495.62" stroke="#2c4566" stroke-width="1.0"/><line x1="392.00" y1="496.98" x2="392.00" y2="499.38" stroke="#2c4566" stroke-width="1.0"/><line x1="396.00" y1="496.98" x2="396.00" y2="499.38" stroke="#2c4566" stroke-width="1.0"/><line x1="404.00" y1="496.98" x2="404.00" y2="499.38" stroke="#2c4566" stroke-width="1.0"/><line x1="412.00" y1="496.98" x2="412.00" y2="499.38" stroke="#2c4566" stroke-width="1.0"/><line x1="424.00" y1="496.98" x2="424.00" y2="499.38" stroke="#2c4566" stroke-width="1.0"/><line x1="432.00" y1="496.98" x2="432.00" y2="499.38" stroke="#2c4566" stroke-width="1.0"/><line x1="440.00" y1="496.98" x2="440.00" y2="499.38" stroke="#2c4566" stroke-width="1.0"/><line x1="446.00" y1="496.98" x2="446.00" y2="499.38" stroke="#2c4566" stroke-width="1.0"/><path d="M369.30,491.45H398.30V590.35" fill="none" stroke="#b8405e" stroke-width="1.1" stroke-linejoin="miter" stroke-linecap="butt"/><rect x="427.00" y="543.90" width="61.47" height="14.60" fill="#ffffff"/><text x="427.60" y="548.90" text-anchor="start" fill="#4f6b90" font-size="6.1" stroke="#4f6b90" stroke-width="0.05" >93.2% (80.2%-97.8%)</text><text x="427.60" y="556.90" text-anchor="start" fill="#c64a66" font-size="6.1" stroke="#c64a66" stroke-width="0.05" >NA</text><text x="485.60" y="587.20" text-anchor="end" fill="#2a2a2a" font-size="6.2" stroke="#2a2a2a" stroke-width="0.05" ><tspan font-style="italic">P</tspan> = .0424</text><text x="364.80" y="627.40" text-anchor="start" fill="#2a2a2a" font-size="6.0" stroke="#2a2a2a" stroke-width="0.05" >Number at risk</text><line x1="350.70" y1="635.00" x2="359.90" y2="635.00" stroke="#7590a6" stroke-width="1.0"/><line x1="350.70" y1="644.80" x2="359.90" y2="644.80" stroke="#c06a82" stroke-width="1.0"/><text x="370.10" y="637.20" text-anchor="middle" fill="#2a2a2a" font-size="6.2" stroke="#2a2a2a" stroke-width="0.12" >60</text><text x="370.10" y="647.00" text-anchor="middle" fill="#2a2a2a" font-size="6.2" stroke="#2a2a2a" stroke-width="0.12" >2</text><text x="398.40" y="637.20" text-anchor="middle" fill="#2a2a2a" font-size="6.2" stroke="#2a2a2a" stroke-width="0.12" >24</text><text x="398.40" y="647.00" text-anchor="middle" fill="#2a2a2a" font-size="6.2" stroke="#2a2a2a" stroke-width="0.12" >0</text><text x="426.70" y="637.20" text-anchor="middle" fill="#2a2a2a" font-size="6.2" stroke="#2a2a2a" stroke-width="0.12" >13</text><text x="426.70" y="647.00" text-anchor="middle" fill="#2a2a2a" font-size="6.2" stroke="#2a2a2a" stroke-width="0.12" >0</text><text x="455.00" y="637.20" text-anchor="middle" fill="#2a2a2a" font-size="6.2" stroke="#2a2a2a" stroke-width="0.12" >0</text><text x="455.00" y="647.00" text-anchor="middle" fill="#2a2a2a" font-size="6.2" stroke="#2a2a2a" stroke-width="0.12" >0</text><text x="483.30" y="637.20" text-anchor="middle" fill="#2a2a2a" font-size="6.2" stroke="#2a2a2a" stroke-width="0.12" >0</text><text x="483.30" y="647.00" text-anchor="middle" fill="#2a2a2a" font-size="6.2" stroke="#2a2a2a" stroke-width="0.12" >0</text><line x1="370.59" y1="657.20" x2="378.79" y2="657.20" stroke="#46526a" stroke-width="0.85"/><text x="381.79" y="659.30" text-anchor="start" fill="#2a2a2a" font-size="6.25" stroke="#2a2a2a" stroke-width="0.05" >Absent (n = 60)</text><line x1="430.90" y1="657.20" x2="438.90" y2="657.20" stroke="#b8405e" stroke-width="0.85"/><text x="441.50" y="659.30" text-anchor="start" fill="#2a2a2a" font-size="6.25" stroke="#2a2a2a" stroke-width="0.05" >Present (n = 2)</text></svg>
</body></html>
